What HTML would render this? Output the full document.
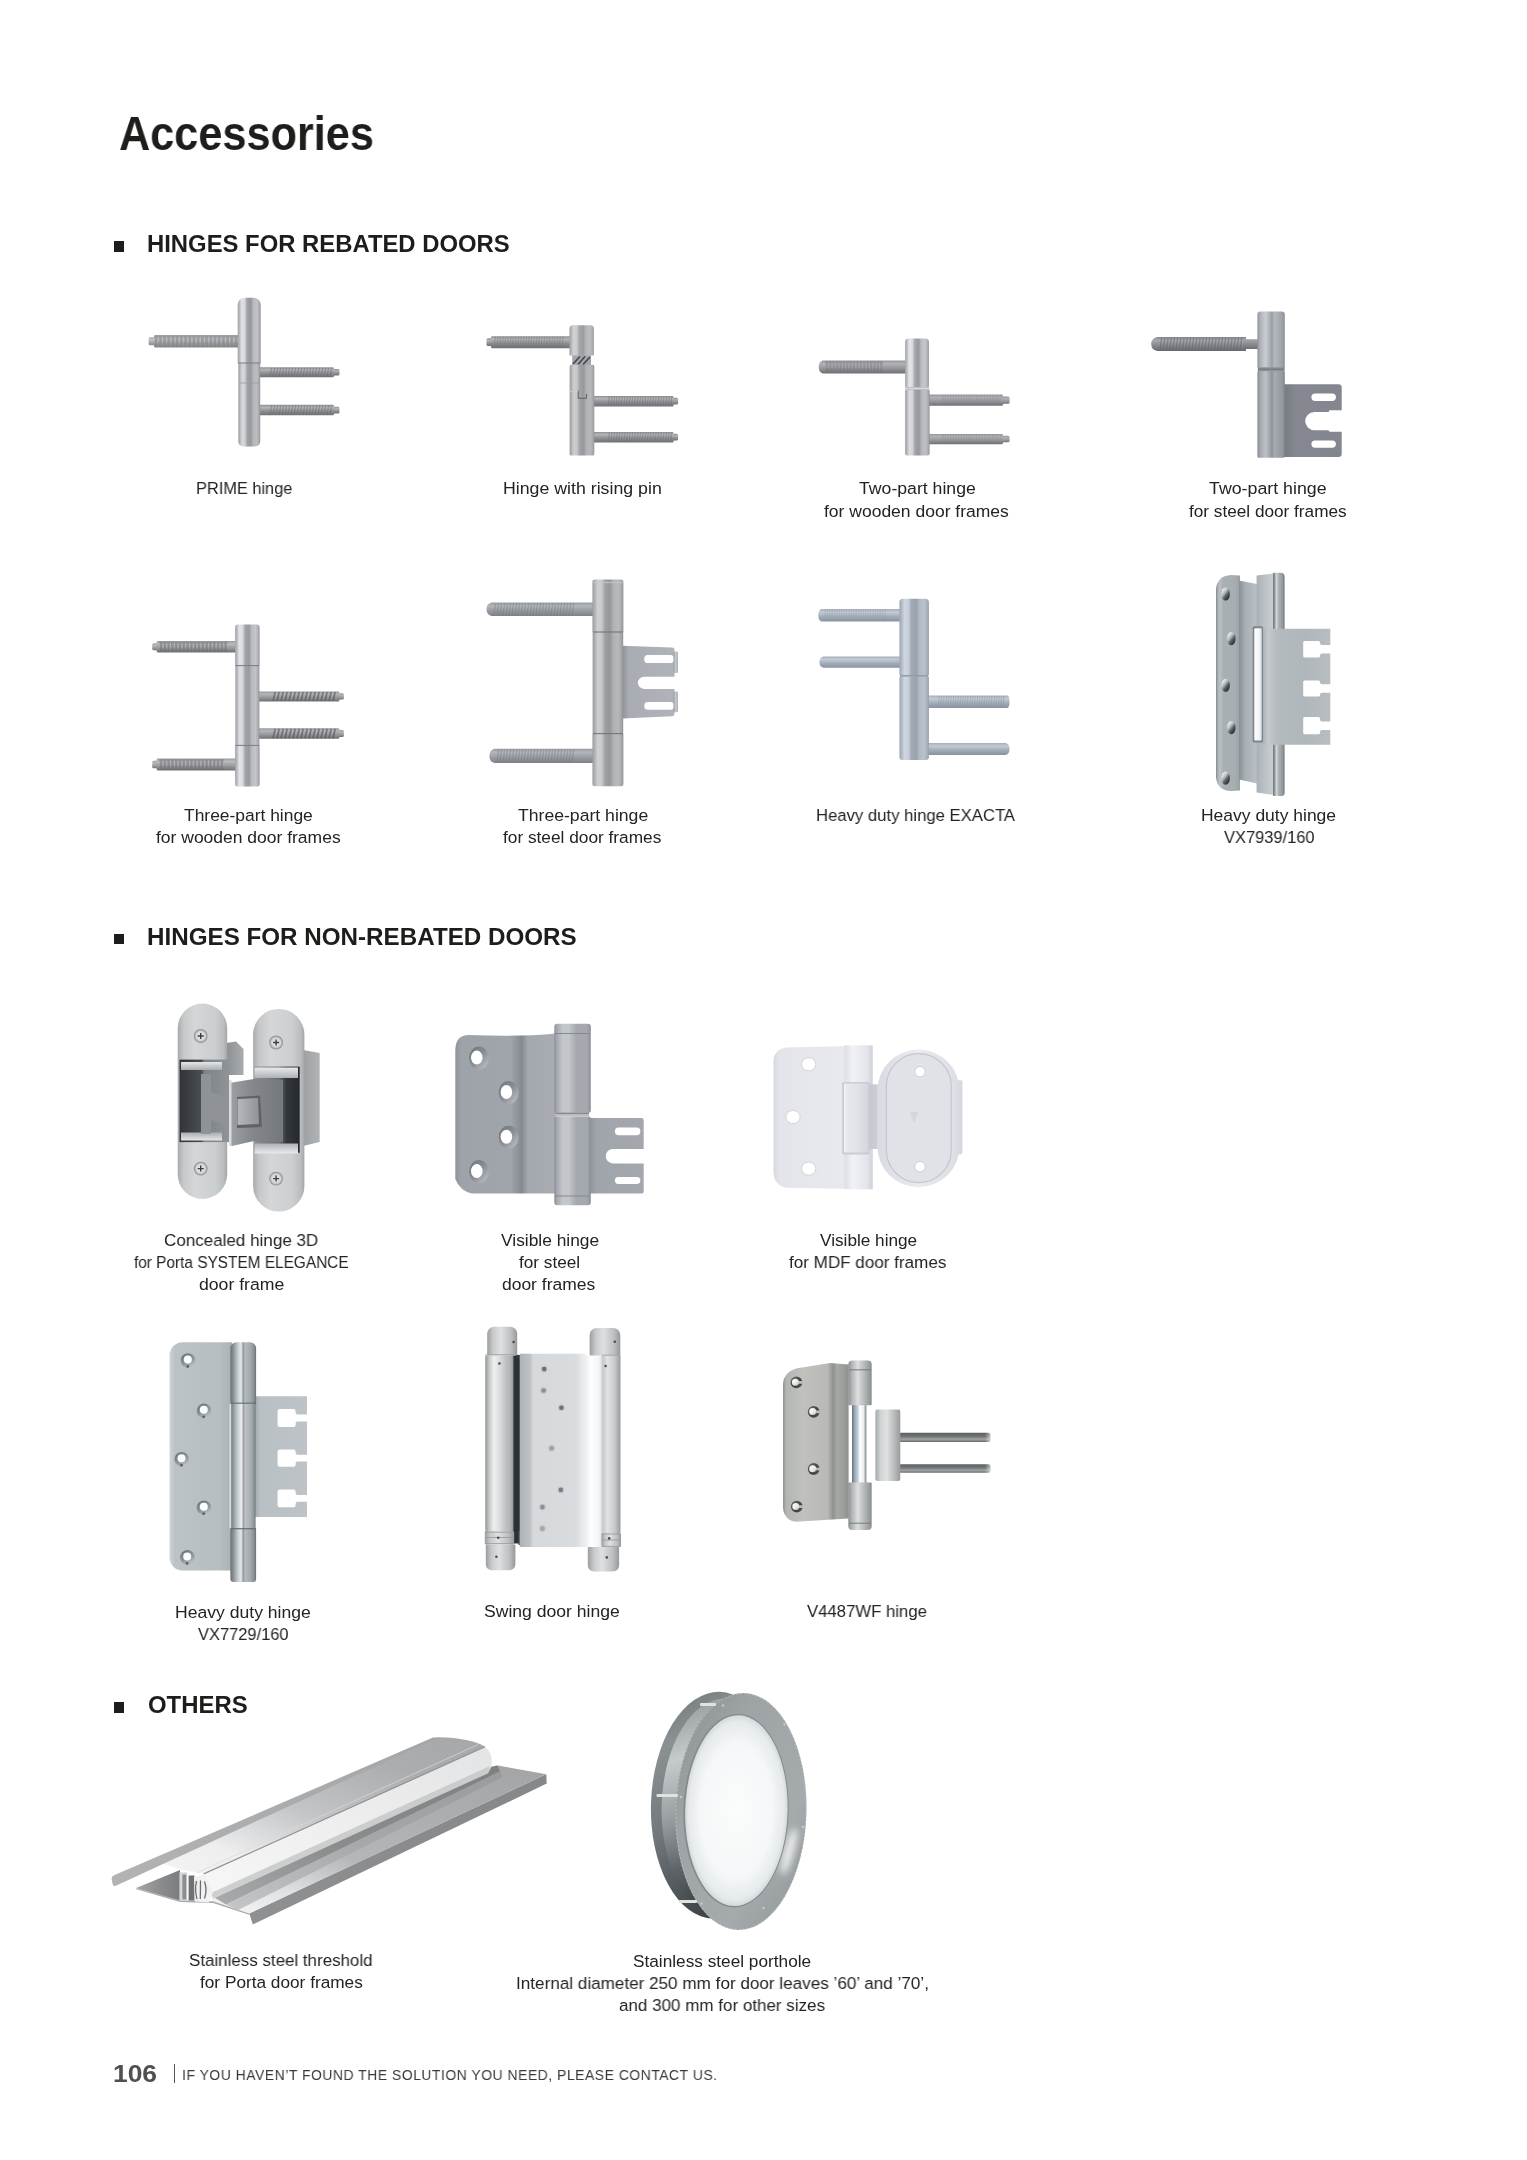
<!DOCTYPE html>
<html lang="en">
<head>
<meta charset="utf-8">
<title>Accessories</title>
<style>
html,body{margin:0;padding:0;background:#fff;}
body{width:1527px;height:2160px;position:relative;overflow:hidden;font-family:"Liberation Sans",sans-serif;}
#art{position:absolute;display:block;left:0;top:0;width:1527px;height:2160px;}
.t{position:absolute;will-change:transform;white-space:nowrap;line-height:1;transform-origin:0 0;margin:0;padding:0;font-weight:400;}
.b{position:absolute;width:10.6px;height:10.4px;background:#1d1d1b;}
.sep{position:absolute;left:173.7px;top:2064.0px;width:1.1px;height:19px;background:#555;}
</style>
</head>
<body>
<svg id="art" width="1527" height="2160" viewBox="0 0 1527 2160">
<defs>
<filter id="soft" x="-5%" y="-5%" width="110%" height="110%"><feGaussianBlur stdDeviation="0.55"/></filter>
<linearGradient id="g1" x1="0" y1="0" x2="0" y2="1"><stop offset="0" stop-color="#a3a5a9"/><stop offset="0.25" stop-color="#c2c4c7"/><stop offset="0.6" stop-color="#a3a5a9"/><stop offset="1" stop-color="#8a8c90"/></linearGradient>
<linearGradient id="g2" x1="0" y1="0" x2="0" y2="1"><stop offset="0" stop-color="#a3a5a9"/><stop offset="0.3" stop-color="#c2c4c7"/><stop offset="0.65" stop-color="#a3a5a9"/><stop offset="1" stop-color="#8a8c90"/></linearGradient>
<linearGradient id="g3" x1="0" y1="0" x2="0" y2="1"><stop offset="0" stop-color="#8d8f93"/><stop offset="0.25" stop-color="#b3b5b8"/><stop offset="0.6" stop-color="#8d8f93"/><stop offset="1" stop-color="#6e7074"/></linearGradient>
<linearGradient id="g4" x1="0" y1="0" x2="0" y2="1"><stop offset="0" stop-color="#8d8f93"/><stop offset="0.3" stop-color="#b3b5b8"/><stop offset="0.65" stop-color="#8d8f93"/><stop offset="1" stop-color="#6e7074"/></linearGradient>
<linearGradient id="g5" x1="0" y1="0" x2="0" y2="1"><stop offset="0" stop-color="#8d8f93"/><stop offset="0.25" stop-color="#b3b5b8"/><stop offset="0.6" stop-color="#8d8f93"/><stop offset="1" stop-color="#6e7074"/></linearGradient>
<linearGradient id="g6" x1="0" y1="0" x2="0" y2="1"><stop offset="0" stop-color="#8d8f93"/><stop offset="0.3" stop-color="#b3b5b8"/><stop offset="0.65" stop-color="#8d8f93"/><stop offset="1" stop-color="#6e7074"/></linearGradient>
<linearGradient id="g7" x1="0" y1="0" x2="1" y2="0"><stop offset="0" stop-color="#9da0a5"/><stop offset="0.07" stop-color="#b3b6ba"/><stop offset="0.17" stop-color="#e0e2e5"/><stop offset="0.3" stop-color="#d8dadd"/><stop offset="0.41" stop-color="#a0a3a9"/><stop offset="0.57" stop-color="#94979d"/><stop offset="0.68" stop-color="#b7babe"/><stop offset="0.84" stop-color="#c2c4c8"/><stop offset="0.94" stop-color="#a9acb1"/><stop offset="1" stop-color="#8e9197"/></linearGradient>
<linearGradient id="g8" x1="0" y1="0" x2="1" y2="0"><stop offset="0" stop-color="#9da0a4"/><stop offset="0.07" stop-color="#b0b2b6"/><stop offset="0.17" stop-color="#d6d8da"/><stop offset="0.3" stop-color="#cfd1d4"/><stop offset="0.41" stop-color="#a0a2a7"/><stop offset="0.57" stop-color="#95989d"/><stop offset="0.68" stop-color="#b3b6b9"/><stop offset="0.84" stop-color="#bdbec2"/><stop offset="0.94" stop-color="#a7aaae"/><stop offset="1" stop-color="#909398"/></linearGradient>
<linearGradient id="g9" x1="0" y1="0" x2="0" y2="1"><stop offset="0" stop-color="#8c8e92"/><stop offset="0.25" stop-color="#b3b5b8"/><stop offset="0.6" stop-color="#8c8e92"/><stop offset="1" stop-color="#6e7074"/></linearGradient>
<linearGradient id="g10" x1="0" y1="0" x2="0" y2="1"><stop offset="0" stop-color="#8c8e92"/><stop offset="0.3" stop-color="#b3b5b8"/><stop offset="0.65" stop-color="#8c8e92"/><stop offset="1" stop-color="#6e7074"/></linearGradient>
<linearGradient id="g11" x1="0" y1="0" x2="0" y2="1"><stop offset="0" stop-color="#8c8e92"/><stop offset="0.25" stop-color="#b3b5b8"/><stop offset="0.6" stop-color="#8c8e92"/><stop offset="1" stop-color="#6e7074"/></linearGradient>
<linearGradient id="g12" x1="0" y1="0" x2="0" y2="1"><stop offset="0" stop-color="#8c8e92"/><stop offset="0.3" stop-color="#b3b5b8"/><stop offset="0.65" stop-color="#8c8e92"/><stop offset="1" stop-color="#6e7074"/></linearGradient>
<linearGradient id="g13" x1="0" y1="0" x2="0" y2="1"><stop offset="0" stop-color="#8c8e92"/><stop offset="0.25" stop-color="#b3b5b8"/><stop offset="0.6" stop-color="#8c8e92"/><stop offset="1" stop-color="#6e7074"/></linearGradient>
<linearGradient id="g14" x1="0" y1="0" x2="0" y2="1"><stop offset="0" stop-color="#8c8e92"/><stop offset="0.3" stop-color="#b3b5b8"/><stop offset="0.65" stop-color="#8c8e92"/><stop offset="1" stop-color="#6e7074"/></linearGradient>
<linearGradient id="g15" x1="0" y1="0" x2="1" y2="0"><stop offset="0" stop-color="#a1a3a7"/><stop offset="0.07" stop-color="#b1b3b6"/><stop offset="0.17" stop-color="#d0d2d4"/><stop offset="0.3" stop-color="#cbccce"/><stop offset="0.41" stop-color="#a3a6aa"/><stop offset="0.57" stop-color="#9b9da1"/><stop offset="0.68" stop-color="#b4b6b8"/><stop offset="0.84" stop-color="#bbbdbf"/><stop offset="0.94" stop-color="#aaacaf"/><stop offset="1" stop-color="#97999d"/></linearGradient>
<linearGradient id="g16" x1="0" y1="0" x2="1" y2="0"><stop offset="0" stop-color="#9d9fa3"/><stop offset="0.07" stop-color="#adafb2"/><stop offset="0.17" stop-color="#ccced0"/><stop offset="0.3" stop-color="#c7c8ca"/><stop offset="0.41" stop-color="#9fa2a6"/><stop offset="0.57" stop-color="#97999d"/><stop offset="0.68" stop-color="#b0b2b4"/><stop offset="0.84" stop-color="#b7b9bb"/><stop offset="0.94" stop-color="#a6a8ab"/><stop offset="1" stop-color="#939599"/></linearGradient>
<linearGradient id="g17" x1="0" y1="0" x2="0" y2="1"><stop offset="0" stop-color="#94969a"/><stop offset="0.25" stop-color="#b2b4b7"/><stop offset="0.6" stop-color="#94969a"/><stop offset="1" stop-color="#6e7074"/></linearGradient>
<linearGradient id="g18" x1="0" y1="0" x2="0" y2="1"><stop offset="0" stop-color="#96989c"/><stop offset="0.25" stop-color="#b0b2b5"/><stop offset="0.6" stop-color="#96989c"/><stop offset="1" stop-color="#6e7074"/></linearGradient>
<linearGradient id="g19" x1="0" y1="0" x2="0" y2="1"><stop offset="0" stop-color="#96989c"/><stop offset="0.3" stop-color="#b0b2b5"/><stop offset="0.65" stop-color="#96989c"/><stop offset="1" stop-color="#6e7074"/></linearGradient>
<linearGradient id="g20" x1="0" y1="0" x2="0" y2="1"><stop offset="0" stop-color="#96989c"/><stop offset="0.25" stop-color="#b0b2b5"/><stop offset="0.6" stop-color="#96989c"/><stop offset="1" stop-color="#6e7074"/></linearGradient>
<linearGradient id="g21" x1="0" y1="0" x2="0" y2="1"><stop offset="0" stop-color="#96989c"/><stop offset="0.3" stop-color="#b0b2b5"/><stop offset="0.65" stop-color="#96989c"/><stop offset="1" stop-color="#6e7074"/></linearGradient>
<linearGradient id="g22" x1="0" y1="0" x2="1" y2="0"><stop offset="0" stop-color="#a0a3a8"/><stop offset="0.07" stop-color="#b6b9bd"/><stop offset="0.17" stop-color="#e3e5e8"/><stop offset="0.3" stop-color="#dbdde0"/><stop offset="0.41" stop-color="#a3a6ac"/><stop offset="0.57" stop-color="#979aa0"/><stop offset="0.68" stop-color="#babdc1"/><stop offset="0.84" stop-color="#c5c7cb"/><stop offset="0.94" stop-color="#acafb4"/><stop offset="1" stop-color="#91949a"/></linearGradient>
<linearGradient id="g23" x1="0" y1="0" x2="1" y2="0"><stop offset="0" stop-color="#9da0a4"/><stop offset="0.07" stop-color="#b1b4b7"/><stop offset="0.17" stop-color="#d9dbde"/><stop offset="0.3" stop-color="#d2d4d7"/><stop offset="0.41" stop-color="#a0a2a8"/><stop offset="0.57" stop-color="#95989d"/><stop offset="0.68" stop-color="#b4b7bb"/><stop offset="0.84" stop-color="#bec0c4"/><stop offset="0.94" stop-color="#a8abaf"/><stop offset="1" stop-color="#909298"/></linearGradient>
<linearGradient id="g24" x1="0" y1="0" x2="0" y2="1"><stop offset="0" stop-color="#86898d"/><stop offset="0.25" stop-color="#a6a9ad"/><stop offset="0.6" stop-color="#86898d"/><stop offset="1" stop-color="#66696d"/></linearGradient>
<linearGradient id="g25" x1="0" y1="0" x2="0" y2="1"><stop offset="0" stop-color="#a3a6aa"/><stop offset="0.4" stop-color="#8e9195"/><stop offset="1" stop-color="#6c6f73"/></linearGradient>
<linearGradient id="g26" x1="0" y1="0" x2="1" y2="0"><stop offset="0" stop-color="#787b83"/><stop offset="0.2" stop-color="#858891"/><stop offset="1" stop-color="#83868e"/></linearGradient>
<linearGradient id="g27" x1="0" y1="0" x2="1" y2="0"><stop offset="0" stop-color="#8f9299"/><stop offset="0.1" stop-color="#aeb2b8"/><stop offset="0.3" stop-color="#c9ccd1"/><stop offset="0.47" stop-color="#a9adb3"/><stop offset="0.53" stop-color="#999da4"/><stop offset="0.62" stop-color="#b4b8be"/><stop offset="0.9" stop-color="#9ea2a9"/><stop offset="1" stop-color="#8a8e95"/></linearGradient>
<linearGradient id="g28" x1="0" y1="0" x2="1" y2="0"><stop offset="0" stop-color="#868990"/><stop offset="0.1" stop-color="#a3a7ae"/><stop offset="0.3" stop-color="#bdc1c7"/><stop offset="0.47" stop-color="#9da1a8"/><stop offset="0.53" stop-color="#8e9299"/><stop offset="0.62" stop-color="#a6aab1"/><stop offset="0.9" stop-color="#959aa1"/><stop offset="1" stop-color="#80848b"/></linearGradient>
<linearGradient id="g29" x1="0" y1="0" x2="0" y2="1"><stop offset="0" stop-color="#9a9ca0"/><stop offset="0.25" stop-color="#b9bbbe"/><stop offset="0.6" stop-color="#9a9ca0"/><stop offset="1" stop-color="#6e7074"/></linearGradient>
<linearGradient id="g30" x1="0" y1="0" x2="0" y2="1"><stop offset="0" stop-color="#9a9ca0"/><stop offset="0.3" stop-color="#b9bbbe"/><stop offset="0.65" stop-color="#9a9ca0"/><stop offset="1" stop-color="#6e7074"/></linearGradient>
<linearGradient id="g31" x1="0" y1="0" x2="0" y2="1"><stop offset="0" stop-color="#9a9ca0"/><stop offset="0.25" stop-color="#b9bbbe"/><stop offset="0.6" stop-color="#9a9ca0"/><stop offset="1" stop-color="#6e7074"/></linearGradient>
<linearGradient id="g32" x1="0" y1="0" x2="0" y2="1"><stop offset="0" stop-color="#9a9ca0"/><stop offset="0.3" stop-color="#b9bbbe"/><stop offset="0.65" stop-color="#9a9ca0"/><stop offset="1" stop-color="#6e7074"/></linearGradient>
<linearGradient id="g33" x1="0" y1="0" x2="0" y2="1"><stop offset="0" stop-color="#96989c"/><stop offset="0.25" stop-color="#b4b6b9"/><stop offset="0.6" stop-color="#96989c"/><stop offset="1" stop-color="#6e7074"/></linearGradient>
<linearGradient id="g34" x1="0" y1="0" x2="0" y2="1"><stop offset="0" stop-color="#96989c"/><stop offset="0.3" stop-color="#b4b6b9"/><stop offset="0.65" stop-color="#96989c"/><stop offset="1" stop-color="#6e7074"/></linearGradient>
<linearGradient id="g35" x1="0" y1="0" x2="0" y2="1"><stop offset="0" stop-color="#96989c"/><stop offset="0.25" stop-color="#b4b6b9"/><stop offset="0.6" stop-color="#96989c"/><stop offset="1" stop-color="#6e7074"/></linearGradient>
<linearGradient id="g36" x1="0" y1="0" x2="0" y2="1"><stop offset="0" stop-color="#96989c"/><stop offset="0.3" stop-color="#b4b6b9"/><stop offset="0.65" stop-color="#96989c"/><stop offset="1" stop-color="#6e7074"/></linearGradient>
<linearGradient id="g37" x1="0" y1="0" x2="1" y2="0"><stop offset="0" stop-color="#9fa2a7"/><stop offset="0.07" stop-color="#b5b8bc"/><stop offset="0.17" stop-color="#e2e4e7"/><stop offset="0.3" stop-color="#dadcdf"/><stop offset="0.41" stop-color="#a2a5ab"/><stop offset="0.57" stop-color="#96999f"/><stop offset="0.68" stop-color="#b9bcc0"/><stop offset="0.84" stop-color="#c4c6ca"/><stop offset="0.94" stop-color="#abaeb3"/><stop offset="1" stop-color="#909399"/></linearGradient>
<linearGradient id="g38" x1="0" y1="0" x2="1" y2="0"><stop offset="0" stop-color="#9fa2a6"/><stop offset="0.07" stop-color="#b3b6b9"/><stop offset="0.17" stop-color="#dbdde0"/><stop offset="0.3" stop-color="#d4d6d9"/><stop offset="0.41" stop-color="#a2a4aa"/><stop offset="0.57" stop-color="#979a9f"/><stop offset="0.68" stop-color="#b6b9bd"/><stop offset="0.84" stop-color="#c0c2c6"/><stop offset="0.94" stop-color="#aaadb1"/><stop offset="1" stop-color="#92949a"/></linearGradient>
<linearGradient id="g39" x1="0" y1="0" x2="1" y2="0"><stop offset="0" stop-color="#9fa2a7"/><stop offset="0.07" stop-color="#b5b8bc"/><stop offset="0.17" stop-color="#e2e4e7"/><stop offset="0.3" stop-color="#dadcdf"/><stop offset="0.41" stop-color="#a2a5ab"/><stop offset="0.57" stop-color="#96999f"/><stop offset="0.68" stop-color="#b9bcc0"/><stop offset="0.84" stop-color="#c4c6ca"/><stop offset="0.94" stop-color="#abaeb3"/><stop offset="1" stop-color="#909399"/></linearGradient>
<linearGradient id="g40" x1="0" y1="0" x2="0" y2="1"><stop offset="0" stop-color="#999ca1"/><stop offset="0.25" stop-color="#b3b6bb"/><stop offset="0.6" stop-color="#999ca1"/><stop offset="1" stop-color="#7f8287"/></linearGradient>
<linearGradient id="g41" x1="0" y1="0" x2="0" y2="1"><stop offset="0" stop-color="#999ca1"/><stop offset="0.25" stop-color="#b3b6bb"/><stop offset="0.6" stop-color="#999ca1"/><stop offset="1" stop-color="#7f8287"/></linearGradient>
<linearGradient id="g42" x1="0" y1="0" x2="1" y2="0"><stop offset="0" stop-color="#8f939a"/><stop offset="0.12" stop-color="#a9adb3"/><stop offset="1" stop-color="#b0b4ba"/></linearGradient>
<linearGradient id="g43" x1="0" y1="0" x2="1" y2="0"><stop offset="0" stop-color="#9a9ea4"/><stop offset="0.5" stop-color="#c9ccd0"/><stop offset="1" stop-color="#a3a7ad"/></linearGradient>
<linearGradient id="g44" x1="0" y1="0" x2="1" y2="0"><stop offset="0" stop-color="#9a9ea4"/><stop offset="0.5" stop-color="#c9ccd0"/><stop offset="1" stop-color="#a3a7ad"/></linearGradient>
<linearGradient id="g45" x1="0" y1="0" x2="1" y2="0"><stop offset="0" stop-color="#9c9ea2"/><stop offset="0.07" stop-color="#adafb2"/><stop offset="0.17" stop-color="#ced0d2"/><stop offset="0.3" stop-color="#c8cacc"/><stop offset="0.41" stop-color="#9ea1a5"/><stop offset="0.57" stop-color="#96989c"/><stop offset="0.68" stop-color="#b0b2b5"/><stop offset="0.84" stop-color="#b8babc"/><stop offset="0.94" stop-color="#a5a8ab"/><stop offset="1" stop-color="#919398"/></linearGradient>
<linearGradient id="g46" x1="0" y1="0" x2="1" y2="0"><stop offset="0" stop-color="#9a9ca0"/><stop offset="0.07" stop-color="#abadb0"/><stop offset="0.17" stop-color="#ccced0"/><stop offset="0.3" stop-color="#c6c8ca"/><stop offset="0.41" stop-color="#9c9fa3"/><stop offset="0.57" stop-color="#94969a"/><stop offset="0.68" stop-color="#aeb0b3"/><stop offset="0.84" stop-color="#b6b8ba"/><stop offset="0.94" stop-color="#a3a6a9"/><stop offset="1" stop-color="#8f9196"/></linearGradient>
<linearGradient id="g47" x1="0" y1="0" x2="1" y2="0"><stop offset="0" stop-color="#9c9ea2"/><stop offset="0.07" stop-color="#adafb2"/><stop offset="0.17" stop-color="#ced0d2"/><stop offset="0.3" stop-color="#c8cacc"/><stop offset="0.41" stop-color="#9ea1a5"/><stop offset="0.57" stop-color="#96989c"/><stop offset="0.68" stop-color="#b0b2b5"/><stop offset="0.84" stop-color="#b8babc"/><stop offset="0.94" stop-color="#a5a8ab"/><stop offset="1" stop-color="#919398"/></linearGradient>
<linearGradient id="g48" x1="0" y1="0" x2="0" y2="1"><stop offset="0" stop-color="#a3adb9"/><stop offset="0.25" stop-color="#c3cbd4"/><stop offset="0.6" stop-color="#a3adb9"/><stop offset="1" stop-color="#8893a0"/></linearGradient>
<linearGradient id="g49" x1="0" y1="0" x2="0" y2="1"><stop offset="0" stop-color="#a3adb9"/><stop offset="0.25" stop-color="#c3cbd4"/><stop offset="0.6" stop-color="#a3adb9"/><stop offset="1" stop-color="#8893a0"/></linearGradient>
<linearGradient id="g50" x1="0" y1="0" x2="0" y2="1"><stop offset="0" stop-color="#a3adb9"/><stop offset="0.25" stop-color="#c3cbd4"/><stop offset="0.6" stop-color="#a3adb9"/><stop offset="1" stop-color="#8893a0"/></linearGradient>
<linearGradient id="g51" x1="0" y1="0" x2="0" y2="1"><stop offset="0" stop-color="#a3adb9"/><stop offset="0.25" stop-color="#c3cbd4"/><stop offset="0.6" stop-color="#a3adb9"/><stop offset="1" stop-color="#8893a0"/></linearGradient>
<linearGradient id="g52" x1="0" y1="0" x2="1" y2="0"><stop offset="0" stop-color="#9fa7b3"/><stop offset="0.07" stop-color="#afb7c2"/><stop offset="0.17" stop-color="#ced6e0"/><stop offset="0.3" stop-color="#c9d0da"/><stop offset="0.41" stop-color="#a1aab6"/><stop offset="0.57" stop-color="#99a1ad"/><stop offset="0.68" stop-color="#b2bac4"/><stop offset="0.84" stop-color="#b9c1cb"/><stop offset="0.94" stop-color="#a8b0bb"/><stop offset="1" stop-color="#959da9"/></linearGradient>
<linearGradient id="g53" x1="0" y1="0" x2="1" y2="0"><stop offset="0" stop-color="#9fa7b3"/><stop offset="0.07" stop-color="#afb7c2"/><stop offset="0.17" stop-color="#ced6e0"/><stop offset="0.3" stop-color="#c9d0da"/><stop offset="0.41" stop-color="#a1aab6"/><stop offset="0.57" stop-color="#99a1ad"/><stop offset="0.68" stop-color="#b2bac4"/><stop offset="0.84" stop-color="#b9c1cb"/><stop offset="0.94" stop-color="#a8b0bb"/><stop offset="1" stop-color="#959da9"/></linearGradient>
<linearGradient id="g54" x1="0" y1="0" x2="1" y2="0"><stop offset="0" stop-color="#7f878c"/><stop offset="0.06" stop-color="#a2a9ad"/><stop offset="0.16" stop-color="#bcc2c5"/><stop offset="0.3" stop-color="#a9b0b4"/><stop offset="0.8" stop-color="#a7aeb2"/><stop offset="1" stop-color="#99a1a5"/></linearGradient>
<linearGradient id="g55" x1="0" y1="0" x2="1" y2="0"><stop offset="0" stop-color="#889095"/><stop offset="0.35" stop-color="#a9b0b5"/><stop offset="1" stop-color="#b9bfc4"/></linearGradient>
<linearGradient id="g56" x1="0" y1="0" x2="1" y2="0"><stop offset="0" stop-color="#aab1b6"/><stop offset="0.5" stop-color="#bcc2c6"/><stop offset="1" stop-color="#c9ced2"/></linearGradient>
<linearGradient id="g57" x1="0" y1="0" x2="1" y2="0"><stop offset="0" stop-color="#6b7378"/><stop offset="0.12" stop-color="#8b9398"/><stop offset="0.3" stop-color="#d2d6d8"/><stop offset="0.5" stop-color="#a9b0b4"/><stop offset="0.8" stop-color="#949ca0"/><stop offset="1" stop-color="#70787d"/></linearGradient>
<linearGradient id="g58" x1="0.15" y1="0.1" x2="0.85" y2="0.95"><stop offset="0" stop-color="#f4f6f6"/><stop offset="0.35" stop-color="#b5bbbe"/><stop offset="0.6" stop-color="#596063"/><stop offset="1" stop-color="#1d2225"/></linearGradient>
<linearGradient id="g59" x1="0.15" y1="0.1" x2="0.85" y2="0.95"><stop offset="0" stop-color="#f4f6f6"/><stop offset="0.35" stop-color="#b5bbbe"/><stop offset="0.6" stop-color="#596063"/><stop offset="1" stop-color="#1d2225"/></linearGradient>
<linearGradient id="g60" x1="0.15" y1="0.1" x2="0.85" y2="0.95"><stop offset="0" stop-color="#f4f6f6"/><stop offset="0.35" stop-color="#b5bbbe"/><stop offset="0.6" stop-color="#596063"/><stop offset="1" stop-color="#1d2225"/></linearGradient>
<linearGradient id="g61" x1="0.15" y1="0.1" x2="0.85" y2="0.95"><stop offset="0" stop-color="#f4f6f6"/><stop offset="0.35" stop-color="#b5bbbe"/><stop offset="0.6" stop-color="#596063"/><stop offset="1" stop-color="#1d2225"/></linearGradient>
<linearGradient id="g62" x1="0.15" y1="0.1" x2="0.85" y2="0.95"><stop offset="0" stop-color="#f4f6f6"/><stop offset="0.35" stop-color="#b5bbbe"/><stop offset="0.6" stop-color="#596063"/><stop offset="1" stop-color="#1d2225"/></linearGradient>
<linearGradient id="g63" x1="0" y1="0" x2="1" y2="0"><stop offset="0" stop-color="#a7aeb2"/><stop offset="0.08" stop-color="#c4c9cc"/><stop offset="0.22" stop-color="#b4babe"/><stop offset="0.6" stop-color="#b0b7ba"/><stop offset="1" stop-color="#b7bdc0"/></linearGradient>
<linearGradient id="g64" x1="0" y1="0" x2="1" y2="0"><stop offset="0" stop-color="#ffffff"/><stop offset="0.7" stop-color="#f2f4f5"/><stop offset="1" stop-color="#cfd4d7"/></linearGradient>
<linearGradient id="g65" x1="0" y1="0" x2="1" y2="0"><stop offset="0" stop-color="#8d9093"/><stop offset="1" stop-color="#a9acae"/></linearGradient>
<linearGradient id="g66" x1="0" y1="0" x2="1" y2="0"><stop offset="0" stop-color="#9da0a2"/><stop offset="1" stop-color="#b1b4b6"/></linearGradient>
<linearGradient id="g67" x1="0" y1="0" x2="1" y2="0"><stop offset="0" stop-color="#a9acae"/><stop offset="0.12" stop-color="#c6c8ca"/><stop offset="0.35" stop-color="#d4d6d8"/><stop offset="0.75" stop-color="#cccfd1"/><stop offset="0.92" stop-color="#bcbfc1"/><stop offset="1" stop-color="#a4a7a9"/></linearGradient>
<linearGradient id="g68" x1="0" y1="0" x2="1" y2="0"><stop offset="0" stop-color="#2f3337"/><stop offset="0.45" stop-color="#4a4e53"/><stop offset="0.5" stop-color="#7e8387"/><stop offset="1" stop-color="#8f9498"/></linearGradient>
<linearGradient id="g69" x1="0" y1="0" x2="0" y2="1"><stop offset="0" stop-color="#e5e7e8"/><stop offset="1" stop-color="#a9adb0"/></linearGradient>
<linearGradient id="g70" x1="0" y1="0" x2="0" y2="1"><stop offset="0" stop-color="#a9adb0"/><stop offset="1" stop-color="#e5e7e8"/></linearGradient>
<linearGradient id="g71" x1="0" y1="0" x2="1" y2="0"><stop offset="0" stop-color="#8a8e92"/><stop offset="0.55" stop-color="#6a6e73"/><stop offset="0.7" stop-color="#33373b"/><stop offset="1" stop-color="#26292d"/></linearGradient>
<linearGradient id="g72" x1="0" y1="0" x2="0" y2="1"><stop offset="0" stop-color="#e8eaeb"/><stop offset="1" stop-color="#aeb2b5"/></linearGradient>
<linearGradient id="g73" x1="0" y1="0" x2="0" y2="1"><stop offset="0" stop-color="#aeb2b5"/><stop offset="1" stop-color="#e8eaeb"/></linearGradient>
<linearGradient id="g74" x1="0" y1="0" x2="1" y2="0"><stop offset="0" stop-color="#9ea2a6"/><stop offset="0.4" stop-color="#85898d"/><stop offset="1" stop-color="#74787c"/></linearGradient>
<linearGradient id="g75" x1="0" y1="0" x2="1" y2="0"><stop offset="0" stop-color="#b5b9bc"/><stop offset="1" stop-color="#8f9397"/></linearGradient>
<radialGradient id="r76" cx="0.5" cy="0.5" r="0.5"><stop offset="0" stop-color="#eceeef"/><stop offset="0.7" stop-color="#d5d8da"/><stop offset="1" stop-color="#9da1a4"/></radialGradient>
<radialGradient id="r77" cx="0.5" cy="0.5" r="0.5"><stop offset="0" stop-color="#eceeef"/><stop offset="0.7" stop-color="#d5d8da"/><stop offset="1" stop-color="#9da1a4"/></radialGradient>
<radialGradient id="r78" cx="0.5" cy="0.5" r="0.5"><stop offset="0" stop-color="#eceeef"/><stop offset="0.7" stop-color="#d5d8da"/><stop offset="1" stop-color="#9da1a4"/></radialGradient>
<radialGradient id="r79" cx="0.5" cy="0.5" r="0.5"><stop offset="0" stop-color="#eceeef"/><stop offset="0.7" stop-color="#d5d8da"/><stop offset="1" stop-color="#9da1a4"/></radialGradient>
<linearGradient id="g80" x1="0" y1="0" x2="1" y2="0"><stop offset="0" stop-color="#8f939b"/><stop offset="0.06" stop-color="#9ea2a9"/><stop offset="0.55" stop-color="#a0a4ab"/><stop offset="0.66" stop-color="#858990"/><stop offset="0.72" stop-color="#a3a7ae"/><stop offset="1" stop-color="#a9adb3"/></linearGradient>
<linearGradient id="g81" x1="0" y1="0" x2="1" y2="1"><stop offset="0" stop-color="#6f737a"/><stop offset="0.5" stop-color="#8a8e95"/><stop offset="1" stop-color="#c5c8cc"/></linearGradient>
<linearGradient id="g82" x1="0" y1="0" x2="1" y2="1"><stop offset="0" stop-color="#6f737a"/><stop offset="0.5" stop-color="#8a8e95"/><stop offset="1" stop-color="#c5c8cc"/></linearGradient>
<linearGradient id="g83" x1="0" y1="0" x2="1" y2="1"><stop offset="0" stop-color="#6f737a"/><stop offset="0.5" stop-color="#8a8e95"/><stop offset="1" stop-color="#c5c8cc"/></linearGradient>
<linearGradient id="g84" x1="0" y1="0" x2="1" y2="1"><stop offset="0" stop-color="#6f737a"/><stop offset="0.5" stop-color="#8a8e95"/><stop offset="1" stop-color="#c5c8cc"/></linearGradient>
<linearGradient id="g85" x1="0" y1="0" x2="1" y2="0"><stop offset="0" stop-color="#8a8e95"/><stop offset="0.15" stop-color="#a0a4ab"/><stop offset="1" stop-color="#a4a8ae"/></linearGradient>
<linearGradient id="g86" x1="0" y1="0" x2="1" y2="0"><stop offset="0" stop-color="#8a8e95"/><stop offset="0.07" stop-color="#a5a9af"/><stop offset="0.22999999999999998" stop-color="#c3c6cb"/><stop offset="0.39999999999999997" stop-color="#c3c6cb"/><stop offset="0.6" stop-color="#a5a9af"/><stop offset="0.9" stop-color="#a5a9af"/><stop offset="1" stop-color="#8a8e95"/></linearGradient>
<linearGradient id="g87" x1="0" y1="0" x2="1" y2="0"><stop offset="0" stop-color="#8a8e95"/><stop offset="0.07" stop-color="#a5a9af"/><stop offset="0.22999999999999998" stop-color="#c3c6cb"/><stop offset="0.39999999999999997" stop-color="#c3c6cb"/><stop offset="0.6" stop-color="#a5a9af"/><stop offset="0.9" stop-color="#a5a9af"/><stop offset="1" stop-color="#8a8e95"/></linearGradient>
<linearGradient id="g88" x1="0" y1="0" x2="1" y2="0"><stop offset="0" stop-color="#d6d8df"/><stop offset="0.06" stop-color="#e4e5ea"/><stop offset="0.7" stop-color="#e8e9ed"/><stop offset="1" stop-color="#e1e3e8"/></linearGradient>
<linearGradient id="g89" x1="0" y1="0" x2="1" y2="0"><stop offset="0" stop-color="#dcdee5"/><stop offset="0.3" stop-color="#f1f2f5"/><stop offset="0.8" stop-color="#e3e5ea"/><stop offset="1" stop-color="#cfd2da"/></linearGradient>
<linearGradient id="g90" x1="0" y1="0" x2="1" y2="0"><stop offset="0" stop-color="#c3c6cf"/><stop offset="0.45" stop-color="#cbced6"/><stop offset="0.5" stop-color="#dfe1e7"/><stop offset="1" stop-color="#e4e6eb"/></linearGradient>
<linearGradient id="g91" x1="0" y1="0" x2="1" y2="0"><stop offset="0" stop-color="#f4f5f7"/><stop offset="0.12" stop-color="#e6e8ec"/><stop offset="0.55" stop-color="#e0e2e8"/><stop offset="1" stop-color="#d3d6de"/></linearGradient>
<linearGradient id="g92" x1="0" y1="0" x2="1" y2="0"><stop offset="0" stop-color="#d9dbe2"/><stop offset="0.5" stop-color="#eaebef"/><stop offset="1" stop-color="#dbdde4"/></linearGradient>
<linearGradient id="g93" x1="0" y1="0" x2="1" y2="0"><stop offset="0" stop-color="#e2e4ea"/><stop offset="1" stop-color="#d3d6de"/></linearGradient>
<linearGradient id="g94" x1="0" y1="0" x2="1" y2="0"><stop offset="0" stop-color="#cdd2d5"/><stop offset="0.08" stop-color="#bcc3c6"/><stop offset="0.8" stop-color="#b7bec2"/><stop offset="1" stop-color="#aab1b5"/></linearGradient>
<linearGradient id="g95" x1="0.2" y1="0" x2="0.8" y2="1"><stop offset="0" stop-color="#6b7378"/><stop offset="0.55" stop-color="#8f979b"/><stop offset="1" stop-color="#c4c9cc"/></linearGradient>
<linearGradient id="g96" x1="0.2" y1="0" x2="0.8" y2="1"><stop offset="0" stop-color="#6b7378"/><stop offset="0.55" stop-color="#8f979b"/><stop offset="1" stop-color="#c4c9cc"/></linearGradient>
<linearGradient id="g97" x1="0.2" y1="0" x2="0.8" y2="1"><stop offset="0" stop-color="#6b7378"/><stop offset="0.55" stop-color="#8f979b"/><stop offset="1" stop-color="#c4c9cc"/></linearGradient>
<linearGradient id="g98" x1="0.2" y1="0" x2="0.8" y2="1"><stop offset="0" stop-color="#6b7378"/><stop offset="0.55" stop-color="#8f979b"/><stop offset="1" stop-color="#c4c9cc"/></linearGradient>
<linearGradient id="g99" x1="0.2" y1="0" x2="0.8" y2="1"><stop offset="0" stop-color="#6b7378"/><stop offset="0.55" stop-color="#8f979b"/><stop offset="1" stop-color="#c4c9cc"/></linearGradient>
<linearGradient id="g100" x1="0" y1="0" x2="1" y2="0"><stop offset="0" stop-color="#a3aaae"/><stop offset="0.1" stop-color="#b9c0c3"/><stop offset="1" stop-color="#bdc3c6"/></linearGradient>
<linearGradient id="g101" x1="0" y1="0" x2="1" y2="0"><stop offset="0" stop-color="#666e73"/><stop offset="0.1" stop-color="#848c91"/><stop offset="0.3" stop-color="#c9ced1"/><stop offset="0.42" stop-color="#e6e9ea"/><stop offset="0.5" stop-color="#8d959a"/><stop offset="0.56" stop-color="#b4babe"/><stop offset="0.8" stop-color="#a0a7ab"/><stop offset="0.93" stop-color="#848c90"/><stop offset="1" stop-color="#687075"/></linearGradient>
<linearGradient id="g102" x1="0" y1="0" x2="1" y2="0"><stop offset="0" stop-color="#737b80"/><stop offset="0.1" stop-color="#99a1a5"/><stop offset="0.3" stop-color="#d2d6d9"/><stop offset="0.42" stop-color="#eceeef"/><stop offset="0.5" stop-color="#98a0a4"/><stop offset="0.56" stop-color="#bcc2c5"/><stop offset="0.8" stop-color="#a8afb3"/><stop offset="0.93" stop-color="#8d9599"/><stop offset="1" stop-color="#727a7f"/></linearGradient>
<linearGradient id="g103" x1="0" y1="0" x2="1" y2="0"><stop offset="0" stop-color="#666e73"/><stop offset="0.1" stop-color="#848c91"/><stop offset="0.3" stop-color="#c9ced1"/><stop offset="0.42" stop-color="#e6e9ea"/><stop offset="0.5" stop-color="#8d959a"/><stop offset="0.56" stop-color="#b4babe"/><stop offset="0.8" stop-color="#a0a7ab"/><stop offset="0.93" stop-color="#848c90"/><stop offset="1" stop-color="#687075"/></linearGradient>
<linearGradient id="g104" x1="0" y1="0" x2="1" y2="0"><stop offset="0" stop-color="#aeb2b6"/><stop offset="0.16" stop-color="#bfc3c6"/><stop offset="0.2" stop-color="#d6d9dc"/><stop offset="0.85" stop-color="#d9dcdf"/><stop offset="1" stop-color="#f0f1f2"/></linearGradient>
<linearGradient id="g105" x1="0" y1="0" x2="1" y2="0"><stop offset="0" stop-color="#9b9ea0"/><stop offset="0.2" stop-color="#c8cacb"/><stop offset="0.45" stop-color="#dfe0e1"/><stop offset="0.8" stop-color="#bcbec0"/><stop offset="1" stop-color="#96999b"/></linearGradient>
<linearGradient id="g106" x1="0" y1="0" x2="1" y2="0"><stop offset="0" stop-color="#8e9193"/><stop offset="0.1" stop-color="#b9bcbe"/><stop offset="0.3" stop-color="#eeefef"/><stop offset="0.5" stop-color="#dcdedf"/><stop offset="0.75" stop-color="#bdc0c2"/><stop offset="0.9" stop-color="#b0b3b5"/><stop offset="1" stop-color="#8d9092"/></linearGradient>
<linearGradient id="g107" x1="0" y1="0" x2="1" y2="0"><stop offset="0" stop-color="#9b9ea0"/><stop offset="0.2" stop-color="#c8cacb"/><stop offset="0.45" stop-color="#dfe0e1"/><stop offset="0.8" stop-color="#bcbec0"/><stop offset="1" stop-color="#96999b"/></linearGradient>
<linearGradient id="g108" x1="0" y1="0" x2="1" y2="0"><stop offset="0" stop-color="#9b9ea0"/><stop offset="0.2" stop-color="#c8cacb"/><stop offset="0.45" stop-color="#dfe0e1"/><stop offset="0.8" stop-color="#bcbec0"/><stop offset="1" stop-color="#96999b"/></linearGradient>
<linearGradient id="g109" x1="0" y1="0" x2="1" y2="0"><stop offset="0" stop-color="#e9ebec"/><stop offset="0.35" stop-color="#ffffff"/><stop offset="0.8" stop-color="#f3f4f5"/><stop offset="1" stop-color="#d8dadc"/></linearGradient>
<linearGradient id="g110" x1="0" y1="0" x2="1" y2="0"><stop offset="0" stop-color="#9b9ea0"/><stop offset="0.2" stop-color="#c8cacb"/><stop offset="0.45" stop-color="#dfe0e1"/><stop offset="0.8" stop-color="#bcbec0"/><stop offset="1" stop-color="#96999b"/></linearGradient>
<linearGradient id="g111" x1="0" y1="0" x2="1" y2="0"><stop offset="0" stop-color="#c3c6c8"/><stop offset="0.3" stop-color="#e0e2e3"/><stop offset="0.7" stop-color="#c6c9cb"/><stop offset="1" stop-color="#979a9c"/></linearGradient>
<linearGradient id="g112" x1="0" y1="0" x2="1" y2="0"><stop offset="0" stop-color="#9b9ea0"/><stop offset="0.2" stop-color="#c8cacb"/><stop offset="0.45" stop-color="#dfe0e1"/><stop offset="0.8" stop-color="#bcbec0"/><stop offset="1" stop-color="#96999b"/></linearGradient>
<linearGradient id="g113" x1="0" y1="0" x2="1" y2="0"><stop offset="0" stop-color="#9b9ea0"/><stop offset="0.2" stop-color="#c8cacb"/><stop offset="0.45" stop-color="#dfe0e1"/><stop offset="0.8" stop-color="#bcbec0"/><stop offset="1" stop-color="#96999b"/></linearGradient>
<linearGradient id="g114" x1="0" y1="0" x2="1" y2="0"><stop offset="0" stop-color="#8f918d"/><stop offset="0.05" stop-color="#b4b6b1"/><stop offset="0.3" stop-color="#c0c1bc"/><stop offset="0.68" stop-color="#b9bab5"/><stop offset="0.765" stop-color="#8f918c"/><stop offset="0.82" stop-color="#a6a8a3"/><stop offset="0.93" stop-color="#9b9d98"/><stop offset="1" stop-color="#8e908b"/></linearGradient>
<linearGradient id="g115" x1="0" y1="0" x2="1" y2="1"><stop offset="0" stop-color="#6a6c6a"/><stop offset="0.6" stop-color="#3f4140"/><stop offset="1" stop-color="#5a5c5a"/></linearGradient>
<linearGradient id="g116" x1="0" y1="0" x2="1" y2="1"><stop offset="0" stop-color="#ffffff"/><stop offset="0.6" stop-color="#e9eae8"/><stop offset="1" stop-color="#b5b7b3"/></linearGradient>
<linearGradient id="g117" x1="0" y1="0" x2="1" y2="1"><stop offset="0" stop-color="#6a6c6a"/><stop offset="0.6" stop-color="#3f4140"/><stop offset="1" stop-color="#5a5c5a"/></linearGradient>
<linearGradient id="g118" x1="0" y1="0" x2="1" y2="1"><stop offset="0" stop-color="#ffffff"/><stop offset="0.6" stop-color="#e9eae8"/><stop offset="1" stop-color="#b5b7b3"/></linearGradient>
<linearGradient id="g119" x1="0" y1="0" x2="1" y2="1"><stop offset="0" stop-color="#6a6c6a"/><stop offset="0.6" stop-color="#3f4140"/><stop offset="1" stop-color="#5a5c5a"/></linearGradient>
<linearGradient id="g120" x1="0" y1="0" x2="1" y2="1"><stop offset="0" stop-color="#ffffff"/><stop offset="0.6" stop-color="#e9eae8"/><stop offset="1" stop-color="#b5b7b3"/></linearGradient>
<linearGradient id="g121" x1="0" y1="0" x2="1" y2="1"><stop offset="0" stop-color="#6a6c6a"/><stop offset="0.6" stop-color="#3f4140"/><stop offset="1" stop-color="#5a5c5a"/></linearGradient>
<linearGradient id="g122" x1="0" y1="0" x2="1" y2="1"><stop offset="0" stop-color="#ffffff"/><stop offset="0.6" stop-color="#e9eae8"/><stop offset="1" stop-color="#b5b7b3"/></linearGradient>
<linearGradient id="g123" x1="0" y1="0" x2="1" y2="0"><stop offset="0" stop-color="#5d6366"/><stop offset="0.15" stop-color="#8fa3b5"/><stop offset="0.4" stop-color="#c0d0de"/><stop offset="0.55" stop-color="#ffffff"/><stop offset="0.8" stop-color="#e8eef3"/><stop offset="1" stop-color="#7b8286"/></linearGradient>
<linearGradient id="g124" x1="0" y1="0" x2="1" y2="0"><stop offset="0" stop-color="#8d9092"/><stop offset="0.15" stop-color="#b1b4b5"/><stop offset="0.4" stop-color="#dcdedf"/><stop offset="0.7" stop-color="#b4b7b8"/><stop offset="1" stop-color="#8b8e90"/></linearGradient>
<linearGradient id="g125" x1="0" y1="0" x2="1" y2="0"><stop offset="0" stop-color="#8d9092"/><stop offset="0.15" stop-color="#b1b4b5"/><stop offset="0.4" stop-color="#dcdedf"/><stop offset="0.7" stop-color="#b4b7b8"/><stop offset="1" stop-color="#8b8e90"/></linearGradient>
<linearGradient id="g126" x1="0" y1="0" x2="0" y2="1"><stop offset="0" stop-color="#5c5f61"/><stop offset="0.45" stop-color="#75787a"/><stop offset="0.7" stop-color="#a2a5a6"/><stop offset="1" stop-color="#6a6d6f"/></linearGradient>
<linearGradient id="g127" x1="0" y1="0" x2="1" y2="0"><stop offset="0" stop-color="#fff"/><stop offset="0.9" stop-color="#fff"/><stop offset="1" stop-color="#000"/></linearGradient>
<mask id="rodfade" maskUnits="userSpaceOnUse" x="895" y="1425" width="100" height="55"><rect x="895" y="1425" width="100" height="55" fill="url(#g127)"/></mask>
<linearGradient id="g128" x1="0" y1="0" x2="1" y2="0"><stop offset="0" stop-color="#a4a7a8"/><stop offset="0.2" stop-color="#cfd1d2"/><stop offset="0.45" stop-color="#e0e2e2"/><stop offset="0.75" stop-color="#b9bcbd"/><stop offset="1" stop-color="#999c9d"/></linearGradient>
<linearGradient id="g129" x1="0" y1="0" x2="1" y2="0"><stop offset="0" stop-color="#8e9092"/><stop offset="1" stop-color="#85878a"/></linearGradient>
<linearGradient id="g130" x1="0.05" y1="1" x2="0.9" y2="0"><stop offset="0" stop-color="#f4f4f5"/><stop offset="0.16" stop-color="#e2e3e4"/><stop offset="0.4" stop-color="#b4b6b8"/><stop offset="1" stop-color="#a3a5a7"/></linearGradient>
<linearGradient id="g131" x1="0" y1="0" x2="1" y2="0"><stop offset="0" stop-color="#a3a5a7"/><stop offset="0.5" stop-color="#8c8e90"/><stop offset="1" stop-color="#7a7c7f"/></linearGradient>
<linearGradient id="g132" x1="0" y1="1" x2="1" y2="0"><stop offset="0" stop-color="#a9abad"/><stop offset="0.4" stop-color="#8b8d8f"/><stop offset="1" stop-color="#7e8082"/></linearGradient>
<linearGradient id="g133" x1="0" y1="1" x2="1" y2="0"><stop offset="0" stop-color="#c4c6c7"/><stop offset="0.5" stop-color="#a5a7a9"/><stop offset="1" stop-color="#999b9d"/></linearGradient>
<linearGradient id="g134" x1="0" y1="1" x2="1" y2="0"><stop offset="0" stop-color="#f7f7f8"/><stop offset="0.55" stop-color="#ededee"/><stop offset="1" stop-color="#e3e4e5"/></linearGradient>
<linearGradient id="g135" x1="0" y1="1" x2="1" y2="0"><stop offset="0" stop-color="#f3f3f4"/><stop offset="0.18" stop-color="#eeeeef"/><stop offset="0.45" stop-color="#c2c4c5"/><stop offset="0.75" stop-color="#abadaf"/><stop offset="1" stop-color="#a5a7a9"/></linearGradient>
<linearGradient id="g136" x1="0" y1="1" x2="1" y2="0"><stop offset="0" stop-color="#b1b3b5"/><stop offset="1" stop-color="#a3a5a7"/></linearGradient>
<linearGradient id="g137" x1="0" y1="0" x2="0.35" y2="1"><stop offset="0" stop-color="#6d7375"/><stop offset="0.25" stop-color="#8b9193"/><stop offset="0.6" stop-color="#70767a"/><stop offset="1" stop-color="#3f4548"/></linearGradient>
<linearGradient id="g138" x1="0" y1="0" x2="0.2" y2="1"><stop offset="0" stop-color="#8b9193"/><stop offset="0.3" stop-color="#c6cacb"/><stop offset="0.55" stop-color="#9aa0a2"/><stop offset="0.8" stop-color="#5d6366"/><stop offset="1" stop-color="#3c4144"/></linearGradient>
<linearGradient id="g139" x1="0" y1="0" x2="1" y2="1"><stop offset="0" stop-color="#8b9193"/><stop offset="0.3" stop-color="#9ea4a6"/><stop offset="0.7" stop-color="#a5abad"/><stop offset="1" stop-color="#8f9597"/></linearGradient>
<filter id="blur4" x="-50%" y="-50%" width="200%" height="200%"><feGaussianBlur stdDeviation="3.5"/></filter>
<radialGradient id="r140" cx="0.5" cy="0.5" r="0.5"><stop offset="0" stop-color="#fbfcfc"/><stop offset="0.7" stop-color="#f5f7f8"/><stop offset="0.93" stop-color="#e6eaec"/><stop offset="1" stop-color="#d3d9dc"/></radialGradient>
</defs>
<g id="prime" filter="url(#soft)">
<path d="M150.10,337.19 L154.60,337.19 L154.60,337.19 L154.60,345.31 L154.60,345.31 L150.10,345.31 A1.50,1.50 0 0 1 148.60,343.81 L148.60,338.69 A1.50,1.50 0 0 1 150.10,337.19 Z" fill="url(#g2)"/>
<path d="M240.00,334.90 L154.80,334.90 Q153.60,336.17 153.60,341.25 Q153.60,346.33 154.80,347.60 L240.00,347.60 Z" fill="url(#g1)"/>
<path d="M155.00,347.00 L157.31,335.50 M155.00,335.50 L157.31,347.00 M159.20,347.00 L161.51,335.50 M159.20,335.50 L161.51,347.00 M163.40,347.00 L165.71,335.50 M163.40,335.50 L165.71,347.00 M167.60,347.00 L169.91,335.50 M167.60,335.50 L169.91,347.00 M171.80,347.00 L174.11,335.50 M171.80,335.50 L174.11,347.00 M176.00,347.00 L178.31,335.50 M176.00,335.50 L178.31,347.00 M180.20,347.00 L182.51,335.50 M180.20,335.50 L182.51,347.00 M184.40,347.00 L186.71,335.50 M184.40,335.50 L186.71,347.00 M188.60,347.00 L190.91,335.50 M188.60,335.50 L190.91,347.00 M192.80,347.00 L195.11,335.50 M192.80,335.50 L195.11,347.00 M197.00,347.00 L199.31,335.50 M197.00,335.50 L199.31,347.00 M201.20,347.00 L203.51,335.50 M201.20,335.50 L203.51,347.00 M205.40,347.00 L207.71,335.50 M205.40,335.50 L207.71,347.00 M209.60,347.00 L211.91,335.50 M209.60,335.50 L211.91,347.00 M213.80,347.00 L216.11,335.50 M213.80,335.50 L216.11,347.00 M218.00,347.00 L220.31,335.50 M218.00,335.50 L220.31,347.00 M222.20,347.00 L224.51,335.50 M222.20,335.50 L224.51,347.00 M226.40,347.00 L228.71,335.50 M226.40,335.50 L228.71,347.00 M230.60,347.00 L232.91,335.50 M230.60,335.50 L232.91,347.00 M234.80,347.00 L237.11,335.50 M234.80,335.50 L237.11,347.00" stroke="#7a7c80" stroke-width="1.76" fill="none" opacity="0.5"/>
<path d="M333.50,369.00 L338.00,369.00 A1.50,1.50 0 0 1 339.50,370.50 L339.50,373.90 A1.50,1.50 0 0 1 338.00,375.40 L333.50,375.40 L333.50,375.40 L333.50,369.00 L333.50,369.00 Z" fill="url(#g4)"/>
<path d="M259.00,367.20 L333.30,367.20 Q334.50,368.20 334.50,372.20 Q334.50,376.20 333.30,377.20 L259.00,377.20 Z" fill="url(#g3)"/>
<path d="M270.00,376.60 L271.65,367.80 M273.00,376.60 L274.65,367.80 M276.00,376.60 L277.65,367.80 M279.00,376.60 L280.65,367.80 M282.00,376.60 L283.65,367.80 M285.00,376.60 L286.65,367.80 M288.00,376.60 L289.65,367.80 M291.00,376.60 L292.65,367.80 M294.00,376.60 L295.65,367.80 M297.00,376.60 L298.65,367.80 M300.00,376.60 L301.65,367.80 M303.00,376.60 L304.65,367.80 M306.00,376.60 L307.65,367.80 M309.00,376.60 L310.65,367.80 M312.00,376.60 L313.65,367.80 M315.00,376.60 L316.65,367.80 M318.00,376.60 L319.65,367.80 M321.00,376.60 L322.65,367.80 M324.00,376.60 L325.65,367.80 M327.00,376.60 L328.65,367.80 M330.00,376.60 L331.65,367.80" stroke="#66686c" stroke-width="1.26" fill="none" opacity="0.45"/>
<path d="M333.50,406.69 L338.00,406.69 A1.50,1.50 0 0 1 339.50,408.19 L339.50,411.91 A1.50,1.50 0 0 1 338.00,413.41 L333.50,413.41 L333.50,413.41 L333.50,406.69 L333.50,406.69 Z" fill="url(#g6)"/>
<path d="M259.00,404.80 L333.30,404.80 Q334.50,405.85 334.50,410.05 Q334.50,414.25 333.30,415.30 L259.00,415.30 Z" fill="url(#g5)"/>
<path d="M270.00,414.70 L271.65,405.40 M273.00,414.70 L274.65,405.40 M276.00,414.70 L277.65,405.40 M279.00,414.70 L280.65,405.40 M282.00,414.70 L283.65,405.40 M285.00,414.70 L286.65,405.40 M288.00,414.70 L289.65,405.40 M291.00,414.70 L292.65,405.40 M294.00,414.70 L295.65,405.40 M297.00,414.70 L298.65,405.40 M300.00,414.70 L301.65,405.40 M303.00,414.70 L304.65,405.40 M306.00,414.70 L307.65,405.40 M309.00,414.70 L310.65,405.40 M312.00,414.70 L313.65,405.40 M315.00,414.70 L316.65,405.40 M318.00,414.70 L319.65,405.40 M321.00,414.70 L322.65,405.40 M324.00,414.70 L325.65,405.40 M327.00,414.70 L328.65,405.40 M330.00,414.70 L331.65,405.40" stroke="#66686c" stroke-width="1.26" fill="none" opacity="0.45"/>
<path d="M244.70,297.70 L253.70,297.70 A7.00,7.00 0 0 1 260.70,304.70 L260.70,362.50 A0.50,0.50 0 0 1 260.20,363.00 L238.20,363.00 A0.50,0.50 0 0 1 237.70,362.50 L237.70,304.70 A7.00,7.00 0 0 1 244.70,297.70 Z" fill="url(#g7)"/>
<path d="M238.80,363.00 L259.70,363.00 A0.50,0.50 0 0 1 260.20,363.50 L260.20,441.40 A5.00,5.00 0 0 1 255.20,446.40 L243.30,446.40 A5.00,5.00 0 0 1 238.30,441.40 L238.30,363.50 A0.50,0.50 0 0 1 238.80,363.00 Z" fill="url(#g8)"/>
<line x1="238.00" y1="363.00" x2="260.50" y2="363.00" stroke="#7b7e84" stroke-width="1.0"/>
<line x1="239.00" y1="383.00" x2="259.80" y2="383.00" stroke="#9a9da3" stroke-width="0.8"/>
</g>
<g id="rising" filter="url(#soft)">
<path d="M488.00,338.36 L491.50,338.36 L491.50,338.36 L491.50,346.04 L491.50,346.04 L488.00,346.04 A1.50,1.50 0 0 1 486.50,344.54 L486.50,339.86 A1.50,1.50 0 0 1 488.00,338.36 Z" fill="url(#g10)"/>
<path d="M571.00,336.20 L491.70,336.20 Q490.50,337.40 490.50,342.20 Q490.50,347.00 491.70,348.20 L571.00,348.20 Z" fill="url(#g9)"/>
<path d="M494.00,347.60 L495.43,336.80 M496.60,347.60 L498.03,336.80 M499.20,347.60 L500.63,336.80 M501.80,347.60 L503.23,336.80 M504.40,347.60 L505.83,336.80 M507.00,347.60 L508.43,336.80 M509.60,347.60 L511.03,336.80 M512.20,347.60 L513.63,336.80 M514.80,347.60 L516.23,336.80 M517.40,347.60 L518.83,336.80 M520.00,347.60 L521.43,336.80 M522.60,347.60 L524.03,336.80 M525.20,347.60 L526.63,336.80 M527.80,347.60 L529.23,336.80 M530.40,347.60 L531.83,336.80 M533.00,347.60 L534.43,336.80 M535.60,347.60 L537.03,336.80 M538.20,347.60 L539.63,336.80 M540.80,347.60 L542.23,336.80 M543.40,347.60 L544.83,336.80 M546.00,347.60 L547.43,336.80 M548.60,347.60 L550.03,336.80 M551.20,347.60 L552.63,336.80 M553.80,347.60 L555.23,336.80 M556.40,347.60 L557.83,336.80 M559.00,347.60 L560.43,336.80 M561.60,347.60 L563.03,336.80" stroke="#6b6d71" stroke-width="1.09" fill="none" opacity="0.4"/>
<path d="M673.10,397.81 L676.60,397.81 A1.50,1.50 0 0 1 678.10,399.31 L678.10,403.09 A1.50,1.50 0 0 1 676.60,404.59 L673.10,404.59 L673.10,404.59 L673.10,397.81 L673.10,397.81 Z" fill="url(#g12)"/>
<path d="M593.00,395.90 L672.90,395.90 Q674.10,396.96 674.10,401.20 Q674.10,405.44 672.90,406.50 L593.00,406.50 Z" fill="url(#g11)"/>
<path d="M608.00,405.90 L609.43,396.50 M610.60,405.90 L612.03,396.50 M613.20,405.90 L614.63,396.50 M615.80,405.90 L617.23,396.50 M618.40,405.90 L619.83,396.50 M621.00,405.90 L622.43,396.50 M623.60,405.90 L625.03,396.50 M626.20,405.90 L627.63,396.50 M628.80,405.90 L630.23,396.50 M631.40,405.90 L632.83,396.50 M634.00,405.90 L635.43,396.50 M636.60,405.90 L638.03,396.50 M639.20,405.90 L640.63,396.50 M641.80,405.90 L643.23,396.50 M644.40,405.90 L645.83,396.50 M647.00,405.90 L648.43,396.50 M649.60,405.90 L651.03,396.50 M652.20,405.90 L653.63,396.50 M654.80,405.90 L656.23,396.50 M657.40,405.90 L658.83,396.50 M660.00,405.90 L661.43,396.50 M662.60,405.90 L664.03,396.50 M665.20,405.90 L666.63,396.50 M667.80,405.90 L669.23,396.50 M670.40,405.90 L671.83,396.50" stroke="#6b6d71" stroke-width="1.09" fill="none" opacity="0.45"/>
<path d="M673.10,433.81 L676.60,433.81 A1.50,1.50 0 0 1 678.10,435.31 L678.10,439.09 A1.50,1.50 0 0 1 676.60,440.59 L673.10,440.59 L673.10,440.59 L673.10,433.81 L673.10,433.81 Z" fill="url(#g14)"/>
<path d="M593.00,431.90 L672.90,431.90 Q674.10,432.96 674.10,437.20 Q674.10,441.44 672.90,442.50 L593.00,442.50 Z" fill="url(#g13)"/>
<path d="M608.00,441.90 L609.43,432.50 M610.60,441.90 L612.03,432.50 M613.20,441.90 L614.63,432.50 M615.80,441.90 L617.23,432.50 M618.40,441.90 L619.83,432.50 M621.00,441.90 L622.43,432.50 M623.60,441.90 L625.03,432.50 M626.20,441.90 L627.63,432.50 M628.80,441.90 L630.23,432.50 M631.40,441.90 L632.83,432.50 M634.00,441.90 L635.43,432.50 M636.60,441.90 L638.03,432.50 M639.20,441.90 L640.63,432.50 M641.80,441.90 L643.23,432.50 M644.40,441.90 L645.83,432.50 M647.00,441.90 L648.43,432.50 M649.60,441.90 L651.03,432.50 M652.20,441.90 L653.63,432.50 M654.80,441.90 L656.23,432.50 M657.40,441.90 L658.83,432.50 M660.00,441.90 L661.43,432.50 M662.60,441.90 L664.03,432.50 M665.20,441.90 L666.63,432.50 M667.80,441.90 L669.23,432.50 M670.40,441.90 L671.83,432.50" stroke="#6b6d71" stroke-width="1.09" fill="none" opacity="0.45"/>
<rect x="572.20" y="354.00" width="18.80" height="12.00" fill="#a3a6ab"/>
<path d="M573,364 L580,356.5 M578,364.5 L585,356.5 M583,364.5 L590,357" stroke="#3f4246" stroke-width="1.5" fill="none"/>
<path d="M572.90,325.20 L590.40,325.20 A3.50,3.50 0 0 1 593.90,328.70 L593.90,354.50 A1.00,1.00 0 0 1 592.90,355.50 L570.40,355.50 A1.00,1.00 0 0 1 569.40,354.50 L569.40,328.70 A3.50,3.50 0 0 1 572.90,325.20 Z" fill="url(#g15)"/>
<path d="M571.10,364.80 L592.80,364.80 A1.50,1.50 0 0 1 594.30,366.30 L594.30,454.10 A1.50,1.50 0 0 1 592.80,455.60 L571.10,455.60 A1.50,1.50 0 0 1 569.60,454.10 L569.60,366.30 A1.50,1.50 0 0 1 571.10,364.80 Z" fill="url(#g16)"/>
<path d="M578.2,390.5 L578.2,398.3 L586.5,398.3 L586.5,394" stroke="#5d6065" stroke-width="1" fill="none"/>
<line x1="570.00" y1="391.50" x2="578.00" y2="391.50" stroke="#c9ccd0" stroke-width="0.8"/>
</g>
<g id="two_wood" filter="url(#soft)">
<path d="M906.50,360.60 L822.70,360.60 Q818.70,361.88 818.70,367.00 Q818.70,372.12 822.70,373.40 L906.50,373.40 Z" fill="url(#g17)"/>
<path d="M826.00,372.80 L827.87,361.20 M826.00,361.20 L827.87,372.80 M829.40,372.80 L831.27,361.20 M829.40,361.20 L831.27,372.80 M832.80,372.80 L834.67,361.20 M832.80,361.20 L834.67,372.80 M836.20,372.80 L838.07,361.20 M836.20,361.20 L838.07,372.80 M839.60,372.80 L841.47,361.20 M839.60,361.20 L841.47,372.80 M843.00,372.80 L844.87,361.20 M843.00,361.20 L844.87,372.80 M846.40,372.80 L848.27,361.20 M846.40,361.20 L848.27,372.80 M849.80,372.80 L851.67,361.20 M849.80,361.20 L851.67,372.80 M853.20,372.80 L855.07,361.20 M853.20,361.20 L855.07,372.80 M856.60,372.80 L858.47,361.20 M856.60,361.20 L858.47,372.80 M860.00,372.80 L861.87,361.20 M860.00,361.20 L861.87,372.80 M863.40,372.80 L865.27,361.20 M863.40,361.20 L865.27,372.80 M866.80,372.80 L868.67,361.20 M866.80,361.20 L868.67,372.80 M870.20,372.80 L872.07,361.20 M870.20,361.20 L872.07,372.80 M873.60,372.80 L875.47,361.20 M873.60,361.20 L875.47,372.80 M877.00,372.80 L878.87,361.20 M877.00,361.20 L878.87,372.80 M880.40,372.80 L882.27,361.20 M880.40,361.20 L882.27,372.80" stroke="#707276" stroke-width="1.43" fill="none" opacity="0.4"/>
<path d="M1002.60,396.62 L1008.10,396.62 A1.50,1.50 0 0 1 1009.60,398.12 L1009.60,402.28 A1.50,1.50 0 0 1 1008.10,403.78 L1002.60,403.78 L1002.60,403.78 L1002.60,396.62 L1002.60,396.62 Z" fill="url(#g19)"/>
<path d="M928.00,394.60 L1002.40,394.60 Q1003.60,395.72 1003.60,400.20 Q1003.60,404.68 1002.40,405.80 L928.00,405.80 Z" fill="url(#g18)"/>
<path d="M942.00,405.20 L943.43,395.20 M944.60,405.20 L946.03,395.20 M947.20,405.20 L948.63,395.20 M949.80,405.20 L951.23,395.20 M952.40,405.20 L953.83,395.20 M955.00,405.20 L956.43,395.20 M957.60,405.20 L959.03,395.20 M960.20,405.20 L961.63,395.20 M962.80,405.20 L964.23,395.20 M965.40,405.20 L966.83,395.20 M968.00,405.20 L969.43,395.20 M970.60,405.20 L972.03,395.20 M973.20,405.20 L974.63,395.20 M975.80,405.20 L977.23,395.20 M978.40,405.20 L979.83,395.20 M981.00,405.20 L982.43,395.20 M983.60,405.20 L985.03,395.20 M986.20,405.20 L987.63,395.20 M988.80,405.20 L990.23,395.20 M991.40,405.20 L992.83,395.20 M994.00,405.20 L995.43,395.20 M996.60,405.20 L998.03,395.20 M999.20,405.20 L1000.63,395.20" stroke="#6e7074" stroke-width="1.09" fill="none" opacity="0.22"/>
<path d="M1002.60,435.84 L1008.10,435.84 A1.50,1.50 0 0 1 1009.60,437.34 L1009.60,440.86 A1.50,1.50 0 0 1 1008.10,442.36 L1002.60,442.36 L1002.60,442.36 L1002.60,435.84 L1002.60,435.84 Z" fill="url(#g21)"/>
<path d="M928.00,434.00 L1002.40,434.00 Q1003.60,435.02 1003.60,439.10 Q1003.60,443.18 1002.40,444.20 L928.00,444.20 Z" fill="url(#g20)"/>
<path d="M942.00,443.60 L943.43,434.60 M944.60,443.60 L946.03,434.60 M947.20,443.60 L948.63,434.60 M949.80,443.60 L951.23,434.60 M952.40,443.60 L953.83,434.60 M955.00,443.60 L956.43,434.60 M957.60,443.60 L959.03,434.60 M960.20,443.60 L961.63,434.60 M962.80,443.60 L964.23,434.60 M965.40,443.60 L966.83,434.60 M968.00,443.60 L969.43,434.60 M970.60,443.60 L972.03,434.60 M973.20,443.60 L974.63,434.60 M975.80,443.60 L977.23,434.60 M978.40,443.60 L979.83,434.60 M981.00,443.60 L982.43,434.60 M983.60,443.60 L985.03,434.60 M986.20,443.60 L987.63,434.60 M988.80,443.60 L990.23,434.60 M991.40,443.60 L992.83,434.60 M994.00,443.60 L995.43,434.60 M996.60,443.60 L998.03,434.60 M999.20,443.60 L1000.63,434.60" stroke="#6e7074" stroke-width="1.09" fill="none" opacity="0.22"/>
<path d="M908.60,338.60 L925.40,338.60 A3.50,3.50 0 0 1 928.90,342.10 L928.90,385.90 A1.50,1.50 0 0 1 927.40,387.40 L906.60,387.40 A1.50,1.50 0 0 1 905.10,385.90 L905.10,342.10 A3.50,3.50 0 0 1 908.60,338.60 Z" fill="url(#g22)"/>
<path d="M907.10,389.30 L927.60,389.30 A2.00,2.00 0 0 1 929.60,391.30 L929.60,453.60 A2.00,2.00 0 0 1 927.60,455.60 L907.10,455.60 A2.00,2.00 0 0 1 905.10,453.60 L905.10,391.30 A2.00,2.00 0 0 1 907.10,389.30 Z" fill="url(#g23)"/>
<rect x="905.30" y="387.00" width="23.90" height="2.80" fill="#b9bcc0"/>
<line x1="905.50" y1="388.40" x2="929.00" y2="388.40" stroke="#dcdee0" stroke-width="1.0"/>
</g>
<g id="two_steel" filter="url(#soft)">
<path d="M1246.00,336.90 L1157.20,336.90 Q1151.20,338.32 1151.20,344.00 Q1151.20,349.68 1157.20,351.10 L1246.00,351.10 Z" fill="url(#g24)"/>
<path d="M1160.00,350.50 L1161.76,337.50 M1163.20,350.50 L1164.96,337.50 M1166.40,350.50 L1168.16,337.50 M1169.60,350.50 L1171.36,337.50 M1172.80,350.50 L1174.56,337.50 M1176.00,350.50 L1177.76,337.50 M1179.20,350.50 L1180.96,337.50 M1182.40,350.50 L1184.16,337.50 M1185.60,350.50 L1187.36,337.50 M1188.80,350.50 L1190.56,337.50 M1192.00,350.50 L1193.76,337.50 M1195.20,350.50 L1196.96,337.50 M1198.40,350.50 L1200.16,337.50 M1201.60,350.50 L1203.36,337.50 M1204.80,350.50 L1206.56,337.50 M1208.00,350.50 L1209.76,337.50 M1211.20,350.50 L1212.96,337.50 M1214.40,350.50 L1216.16,337.50 M1217.60,350.50 L1219.36,337.50 M1220.80,350.50 L1222.56,337.50 M1224.00,350.50 L1225.76,337.50 M1227.20,350.50 L1228.96,337.50 M1230.40,350.50 L1232.16,337.50 M1233.60,350.50 L1235.36,337.50 M1236.80,350.50 L1238.56,337.50 M1240.00,350.50 L1241.76,337.50" stroke="#5f6266" stroke-width="1.34" fill="none" opacity="0.5"/>
<rect x="1243.00" y="339.20" width="16.00" height="9.80" fill="url(#g25)"/>
<path d="M1284,384.3 L1338.5,384.3 Q1341.7,384.3 1341.7,387.5 L1341.7,410.2 L1329.5,410.2 L1328.5,412 L1314.3,412 A9.1,9.1 0 1 0 1314.3,430.2 L1328.5,430.2 L1329.5,431.8 L1341.7,431.8 L1341.7,454 Q1341.7,457 1338.5,457 L1284,457 Z" fill="url(#g26)"/>
<rect x="1311.40" y="393.60" width="24.50" height="7.40" rx="3.7" fill="#ffffff"/>
<rect x="1311.40" y="440.40" width="24.50" height="7.40" rx="3.7" fill="#ffffff"/>
<path d="M1260.40,311.60 L1281.80,311.60 A3.00,3.00 0 0 1 1284.80,314.60 L1284.80,367.00 A1.00,1.00 0 0 1 1283.80,368.00 L1258.40,368.00 A1.00,1.00 0 0 1 1257.40,367.00 L1257.40,314.60 A3.00,3.00 0 0 1 1260.40,311.60 Z" fill="url(#g27)"/>
<path d="M1259.40,370.40 L1282.80,370.40 A2.00,2.00 0 0 1 1284.80,372.40 L1284.80,456.30 A1.50,1.50 0 0 1 1283.30,457.80 L1258.90,457.80 A1.50,1.50 0 0 1 1257.40,456.30 L1257.40,372.40 A2.00,2.00 0 0 1 1259.40,370.40 Z" fill="url(#g28)"/>
<rect x="1257.80" y="367.30" width="26.80" height="3.90" fill="#8f9399"/>
<line x1="1258.00" y1="369.20" x2="1284.40" y2="369.20" stroke="#73767d" stroke-width="1.2"/>
</g>
<g id="three_wood" filter="url(#soft)">
<path d="M153.70,643.13 L157.20,643.13 L157.20,643.13 L157.20,650.37 L157.20,650.37 L153.70,650.37 A1.50,1.50 0 0 1 152.20,648.87 L152.20,644.63 A1.50,1.50 0 0 1 153.70,643.13 Z" fill="url(#g30)"/>
<path d="M236.50,641.10 L157.40,641.10 Q156.20,642.23 156.20,646.75 Q156.20,651.27 157.40,652.40 L236.50,652.40 Z" fill="url(#g29)"/>
<path d="M160.00,651.80 L162.09,641.70 M160.00,641.70 L162.09,651.80 M163.80,651.80 L165.89,641.70 M163.80,641.70 L165.89,651.80 M167.60,651.80 L169.69,641.70 M167.60,641.70 L169.69,651.80 M171.40,651.80 L173.49,641.70 M171.40,641.70 L173.49,651.80 M175.20,651.80 L177.29,641.70 M175.20,641.70 L177.29,651.80 M179.00,651.80 L181.09,641.70 M179.00,641.70 L181.09,651.80 M182.80,651.80 L184.89,641.70 M182.80,641.70 L184.89,651.80 M186.60,651.80 L188.69,641.70 M186.60,641.70 L188.69,651.80 M190.40,651.80 L192.49,641.70 M190.40,641.70 L192.49,651.80 M194.20,651.80 L196.29,641.70 M194.20,641.70 L196.29,651.80 M198.00,651.80 L200.09,641.70 M198.00,641.70 L200.09,651.80 M201.80,651.80 L203.89,641.70 M201.80,641.70 L203.89,651.80 M205.60,651.80 L207.69,641.70 M205.60,641.70 L207.69,651.80 M209.40,651.80 L211.49,641.70 M209.40,641.70 L211.49,651.80 M213.20,651.80 L215.29,641.70 M213.20,641.70 L215.29,651.80 M217.00,651.80 L219.09,641.70 M217.00,641.70 L219.09,651.80 M220.80,651.80 L222.89,641.70 M220.80,641.70 L222.89,651.80 M224.60,651.80 L226.69,641.70 M224.60,641.70 L226.69,651.80" stroke="#6a6c70" stroke-width="1.60" fill="none" opacity="0.5"/>
<path d="M153.70,760.66 L157.20,760.66 L157.20,760.66 L157.20,768.34 L157.20,768.34 L153.70,768.34 A1.50,1.50 0 0 1 152.20,766.84 L152.20,762.16 A1.50,1.50 0 0 1 153.70,760.66 Z" fill="url(#g32)"/>
<path d="M236.50,758.50 L157.40,758.50 Q156.20,759.70 156.20,764.50 Q156.20,769.30 157.40,770.50 L236.50,770.50 Z" fill="url(#g31)"/>
<path d="M160.00,769.90 L162.09,759.10 M160.00,759.10 L162.09,769.90 M163.80,769.90 L165.89,759.10 M163.80,759.10 L165.89,769.90 M167.60,769.90 L169.69,759.10 M167.60,759.10 L169.69,769.90 M171.40,769.90 L173.49,759.10 M171.40,759.10 L173.49,769.90 M175.20,769.90 L177.29,759.10 M175.20,759.10 L177.29,769.90 M179.00,769.90 L181.09,759.10 M179.00,759.10 L181.09,769.90 M182.80,769.90 L184.89,759.10 M182.80,759.10 L184.89,769.90 M186.60,769.90 L188.69,759.10 M186.60,759.10 L188.69,769.90 M190.40,769.90 L192.49,759.10 M190.40,759.10 L192.49,769.90 M194.20,769.90 L196.29,759.10 M194.20,759.10 L196.29,769.90 M198.00,769.90 L200.09,759.10 M198.00,759.10 L200.09,769.90 M201.80,769.90 L203.89,759.10 M201.80,759.10 L203.89,769.90 M205.60,769.90 L207.69,759.10 M205.60,759.10 L207.69,769.90 M209.40,769.90 L211.49,759.10 M209.40,759.10 L211.49,769.90 M213.20,769.90 L215.29,759.10 M213.20,759.10 L215.29,769.90 M217.00,769.90 L219.09,759.10 M217.00,759.10 L219.09,769.90 M220.80,769.90 L222.89,759.10 M220.80,759.10 L222.89,769.90" stroke="#6a6c70" stroke-width="1.60" fill="none" opacity="0.5"/>
<path d="M338.90,693.28 L342.40,693.28 A1.50,1.50 0 0 1 343.90,694.78 L343.90,698.12 A1.50,1.50 0 0 1 342.40,699.62 L338.90,699.62 L338.90,699.62 L338.90,693.28 L338.90,693.28 Z" fill="url(#g34)"/>
<path d="M258.50,691.50 L338.70,691.50 Q339.90,692.49 339.90,696.45 Q339.90,700.41 338.70,701.40 L258.50,701.40 Z" fill="url(#g33)"/>
<path d="M273.00,700.80 L275.20,692.10 M277.00,700.80 L279.20,692.10 M281.00,700.80 L283.20,692.10 M285.00,700.80 L287.20,692.10 M289.00,700.80 L291.20,692.10 M293.00,700.80 L295.20,692.10 M297.00,700.80 L299.20,692.10 M301.00,700.80 L303.20,692.10 M305.00,700.80 L307.20,692.10 M309.00,700.80 L311.20,692.10 M313.00,700.80 L315.20,692.10 M317.00,700.80 L319.20,692.10 M321.00,700.80 L323.20,692.10 M325.00,700.80 L327.20,692.10 M329.00,700.80 L331.20,692.10 M333.00,700.80 L335.20,692.10" stroke="#55575b" stroke-width="1.68" fill="none" opacity="0.65"/>
<path d="M338.90,730.11 L342.40,730.11 A1.50,1.50 0 0 1 343.90,731.61 L343.90,735.39 A1.50,1.50 0 0 1 342.40,736.89 L338.90,736.89 L338.90,736.89 L338.90,730.11 L338.90,730.11 Z" fill="url(#g36)"/>
<path d="M258.50,728.20 L338.70,728.20 Q339.90,729.26 339.90,733.50 Q339.90,737.74 338.70,738.80 L258.50,738.80 Z" fill="url(#g35)"/>
<path d="M273.00,738.20 L275.20,728.80 M277.00,738.20 L279.20,728.80 M281.00,738.20 L283.20,728.80 M285.00,738.20 L287.20,728.80 M289.00,738.20 L291.20,728.80 M293.00,738.20 L295.20,728.80 M297.00,738.20 L299.20,728.80 M301.00,738.20 L303.20,728.80 M305.00,738.20 L307.20,728.80 M309.00,738.20 L311.20,728.80 M313.00,738.20 L315.20,728.80 M317.00,738.20 L319.20,728.80 M321.00,738.20 L323.20,728.80 M325.00,738.20 L327.20,728.80 M329.00,738.20 L331.20,728.80 M333.00,738.20 L335.20,728.80" stroke="#55575b" stroke-width="1.68" fill="none" opacity="0.65"/>
<path d="M238.10,624.40 L256.60,624.40 A3.00,3.00 0 0 1 259.60,627.40 L259.60,665.10 A0.50,0.50 0 0 1 259.10,665.60 L235.60,665.60 A0.50,0.50 0 0 1 235.10,665.10 L235.10,627.40 A3.00,3.00 0 0 1 238.10,624.40 Z" fill="url(#g37)"/>
<path d="M235.80,665.60 L258.90,665.60 A0.50,0.50 0 0 1 259.40,666.10 L259.40,744.90 A0.50,0.50 0 0 1 258.90,745.40 L235.80,745.40 A0.50,0.50 0 0 1 235.30,744.90 L235.30,666.10 A0.50,0.50 0 0 1 235.80,665.60 Z" fill="url(#g38)"/>
<path d="M235.60,745.40 L259.10,745.40 A0.50,0.50 0 0 1 259.60,745.90 L259.60,784.00 A2.50,2.50 0 0 1 257.10,786.50 L237.60,786.50 A2.50,2.50 0 0 1 235.10,784.00 L235.10,745.90 A0.50,0.50 0 0 1 235.60,745.40 Z" fill="url(#g39)"/>
<line x1="235.40" y1="665.60" x2="259.30" y2="665.60" stroke="#777a80" stroke-width="1.0"/>
<line x1="235.40" y1="745.40" x2="259.30" y2="745.40" stroke="#777a80" stroke-width="1.0"/>
</g>
<g id="three_steel" filter="url(#soft)">
<path d="M594.00,602.60 L491.50,602.60 Q486.50,603.94 486.50,609.30 Q486.50,614.66 491.50,616.00 L594.00,616.00 Z" fill="url(#g40)"/>
<path d="M494.00,615.40 L495.65,603.20 M497.00,615.40 L498.65,603.20 M500.00,615.40 L501.65,603.20 M503.00,615.40 L504.65,603.20 M506.00,615.40 L507.65,603.20 M509.00,615.40 L510.65,603.20 M512.00,615.40 L513.65,603.20 M515.00,615.40 L516.65,603.20 M518.00,615.40 L519.65,603.20 M521.00,615.40 L522.65,603.20 M524.00,615.40 L525.65,603.20 M527.00,615.40 L528.65,603.20 M530.00,615.40 L531.65,603.20 M533.00,615.40 L534.65,603.20 M536.00,615.40 L537.65,603.20 M539.00,615.40 L540.65,603.20 M542.00,615.40 L543.65,603.20 M545.00,615.40 L546.65,603.20 M548.00,615.40 L549.65,603.20 M551.00,615.40 L552.65,603.20 M554.00,615.40 L555.65,603.20 M557.00,615.40 L558.65,603.20 M560.00,615.40 L561.65,603.20 M563.00,615.40 L564.65,603.20 M566.00,615.40 L567.65,603.20 M569.00,615.40 L570.65,603.20 M572.00,615.40 L573.65,603.20" stroke="#6d7075" stroke-width="1.26" fill="none" opacity="0.35"/>
<path d="M594.00,748.80 L494.40,748.80 Q489.40,750.22 489.40,755.90 Q489.40,761.58 494.40,763.00 L594.00,763.00 Z" fill="url(#g41)"/>
<path d="M497.00,762.40 L498.65,749.40 M500.00,762.40 L501.65,749.40 M503.00,762.40 L504.65,749.40 M506.00,762.40 L507.65,749.40 M509.00,762.40 L510.65,749.40 M512.00,762.40 L513.65,749.40 M515.00,762.40 L516.65,749.40 M518.00,762.40 L519.65,749.40 M521.00,762.40 L522.65,749.40 M524.00,762.40 L525.65,749.40 M527.00,762.40 L528.65,749.40 M530.00,762.40 L531.65,749.40 M533.00,762.40 L534.65,749.40 M536.00,762.40 L537.65,749.40 M539.00,762.40 L540.65,749.40 M542.00,762.40 L543.65,749.40 M545.00,762.40 L546.65,749.40 M548.00,762.40 L549.65,749.40 M551.00,762.40 L552.65,749.40 M554.00,762.40 L555.65,749.40 M557.00,762.40 L558.65,749.40 M560.00,762.40 L561.65,749.40 M563.00,762.40 L564.65,749.40 M566.00,762.40 L567.65,749.40 M569.00,762.40 L570.65,749.40 M572.00,762.40 L573.65,749.40" stroke="#6d7075" stroke-width="1.26" fill="none" opacity="0.35"/>
<path d="M622.5,645.8 L672,647.6 Q674.6,647.8 674.6,650.4 L674.6,676.7 L644,676.7 A6.1,6.1 0 0 0 644,688.9 L674.6,688.9 L674.6,713.6 Q674.6,716 672,716.3 L622.5,718.4 Z" fill="url(#g42)"/>
<rect x="644.30" y="655.00" width="29.50" height="8.00" rx="3.6" fill="#ffffff"/>
<rect x="644.30" y="701.90" width="29.50" height="7.90" rx="3.6" fill="#ffffff"/>
<rect x="673.60" y="651.60" width="4.30" height="21.40" rx="1.2" fill="url(#g43)"/>
<rect x="673.60" y="691.60" width="4.30" height="20.60" rx="1.2" fill="url(#g44)"/>
<path d="M594.90,579.40 L620.90,579.40 A2.50,2.50 0 0 1 623.40,581.90 L623.40,631.50 A0.50,0.50 0 0 1 622.90,632.00 L592.90,632.00 A0.50,0.50 0 0 1 592.40,631.50 L592.40,581.90 A2.50,2.50 0 0 1 594.90,579.40 Z" fill="url(#g45)"/>
<path d="M593.10,632.00 L622.70,632.00 A0.50,0.50 0 0 1 623.20,632.50 L623.20,733.10 A0.50,0.50 0 0 1 622.70,733.60 L593.10,733.60 A0.50,0.50 0 0 1 592.60,733.10 L592.60,632.50 A0.50,0.50 0 0 1 593.10,632.00 Z" fill="url(#g46)"/>
<path d="M592.90,733.60 L622.90,733.60 A0.50,0.50 0 0 1 623.40,734.10 L623.40,783.70 A2.50,2.50 0 0 1 620.90,786.20 L594.90,786.20 A2.50,2.50 0 0 1 592.40,783.70 L592.40,734.10 A0.50,0.50 0 0 1 592.90,733.60 Z" fill="url(#g47)"/>
<line x1="593.00" y1="632.00" x2="623.00" y2="632.00" stroke="#71757b" stroke-width="1.1"/>
<line x1="593.00" y1="733.60" x2="623.00" y2="733.60" stroke="#71757b" stroke-width="1.1"/>
<line x1="593.00" y1="582.60" x2="623.00" y2="582.60" stroke="#c4c7cc" stroke-width="0.9"/>
</g>
<g id="exacta" filter="url(#soft)">
<path d="M901.00,609.00 L821.30,609.00 Q818.30,610.26 818.30,615.30 Q818.30,620.34 821.30,621.60 L901.00,621.60 Z" fill="url(#g48)"/>
<path d="M824.00,621.00 L825.32,609.60 M826.40,621.00 L827.72,609.60 M828.80,621.00 L830.12,609.60 M831.20,621.00 L832.52,609.60 M833.60,621.00 L834.92,609.60 M836.00,621.00 L837.32,609.60 M838.40,621.00 L839.72,609.60 M840.80,621.00 L842.12,609.60 M843.20,621.00 L844.52,609.60 M845.60,621.00 L846.92,609.60 M848.00,621.00 L849.32,609.60 M850.40,621.00 L851.72,609.60 M852.80,621.00 L854.12,609.60 M855.20,621.00 L856.52,609.60 M857.60,621.00 L858.92,609.60 M860.00,621.00 L861.32,609.60 M862.40,621.00 L863.72,609.60 M864.80,621.00 L866.12,609.60 M867.20,621.00 L868.52,609.60 M869.60,621.00 L870.92,609.60 M872.00,621.00 L873.32,609.60 M874.40,621.00 L875.72,609.60 M876.80,621.00 L878.12,609.60 M879.20,621.00 L880.52,609.60 M881.60,621.00 L882.92,609.60 M884.00,621.00 L885.32,609.60" stroke="#8a95a2" stroke-width="1.01" fill="none" opacity="0.35"/>
<path d="M901.00,656.50 L823.40,656.50 Q819.40,657.63 819.40,662.15 Q819.40,666.67 823.40,667.80 L901.00,667.80 Z" fill="url(#g49)"/>
<path d="M927.50,695.50 L1007.60,695.50 Q1009.60,696.75 1009.60,701.75 Q1009.60,706.75 1007.60,708.00 L927.50,708.00 Z" fill="url(#g50)"/>
<path d="M938.00,707.40 L939.32,696.10 M940.40,707.40 L941.72,696.10 M942.80,707.40 L944.12,696.10 M945.20,707.40 L946.52,696.10 M947.60,707.40 L948.92,696.10 M950.00,707.40 L951.32,696.10 M952.40,707.40 L953.72,696.10 M954.80,707.40 L956.12,696.10 M957.20,707.40 L958.52,696.10 M959.60,707.40 L960.92,696.10 M962.00,707.40 L963.32,696.10 M964.40,707.40 L965.72,696.10 M966.80,707.40 L968.12,696.10 M969.20,707.40 L970.52,696.10 M971.60,707.40 L972.92,696.10 M974.00,707.40 L975.32,696.10 M976.40,707.40 L977.72,696.10 M978.80,707.40 L980.12,696.10 M981.20,707.40 L982.52,696.10 M983.60,707.40 L984.92,696.10 M986.00,707.40 L987.32,696.10 M988.40,707.40 L989.72,696.10 M990.80,707.40 L992.12,696.10 M993.20,707.40 L994.52,696.10 M995.60,707.40 L996.92,696.10 M998.00,707.40 L999.32,696.10 M1000.40,707.40 L1001.72,696.10 M1002.80,707.40 L1004.12,696.10" stroke="#8a95a2" stroke-width="1.01" fill="none" opacity="0.45"/>
<path d="M927.50,742.90 L1005.60,742.90 Q1009.60,744.10 1009.60,748.90 Q1009.60,753.70 1005.60,754.90 L927.50,754.90 Z" fill="url(#g51)"/>
<path d="M902.90,598.70 L925.40,598.70 A3.50,3.50 0 0 1 928.90,602.20 L928.90,674.20 A1.00,1.00 0 0 1 927.90,675.20 L900.40,675.20 A1.00,1.00 0 0 1 899.40,674.20 L899.40,602.20 A3.50,3.50 0 0 1 902.90,598.70 Z" fill="url(#g52)"/>
<path d="M900.40,676.60 L927.90,676.60 A1.00,1.00 0 0 1 928.90,677.60 L928.90,757.10 A3.00,3.00 0 0 1 925.90,760.10 L902.40,760.10 A3.00,3.00 0 0 1 899.40,757.10 L899.40,677.60 A1.00,1.00 0 0 1 900.40,676.60 Z" fill="url(#g53)"/>
<line x1="900.00" y1="675.90" x2="928.40" y2="675.90" stroke="#6f7a86" stroke-width="1.2"/>
</g>
<g id="vx7939" filter="url(#soft)">
<path d="M1216,590 Q1216.5,576 1231,575 L1240,575.6 L1240,790.6 L1231,791 Q1217,790.5 1216,777 Z" fill="url(#g54)"/>
<path d="M1239,580.5 L1257,584 L1257,783.5 L1239,779.5 Z" fill="url(#g55)"/>
<path d="M1256.6,575.5 L1273.5,573.5 L1273.5,795 L1256.6,792.5 Z" fill="url(#g56)"/>
<path d="M1274.00,572.70 L1280.60,572.70 A4.00,4.00 0 0 1 1284.60,576.70 L1284.60,793.00 A3.00,3.00 0 0 1 1281.60,796.00 L1274.00,796.00 A1.00,1.00 0 0 1 1273.00,795.00 L1273.00,573.70 A1.00,1.00 0 0 1 1274.00,572.70 Z" fill="url(#g57)"/>
<ellipse cx="1225.60" cy="594.00" rx="4.30" ry="6.60" fill="url(#g58)"/>
<ellipse cx="1231.30" cy="638.70" rx="4.30" ry="6.60" fill="url(#g59)"/>
<ellipse cx="1225.60" cy="685.30" rx="4.30" ry="6.60" fill="url(#g60)"/>
<ellipse cx="1231.30" cy="727.70" rx="4.30" ry="6.60" fill="url(#g61)"/>
<ellipse cx="1225.60" cy="778.20" rx="4.30" ry="6.60" fill="url(#g62)"/>
<path d="M1262.5,628.7 L1330.3,628.7 L1330.3,645.1 L1322,645.1 Q1320,645.1 1320,643.1 L1320,642.5 Q1320,641.0 1318.5,641.0 L1304.7,641.0 Q1303.2,641.0 1303.2,642.5 L1303.2,656.1 Q1303.2,657.6 1304.7,657.6 L1318.5,657.6 Q1320,657.6 1320,656.1 L1320,655.5 Q1320,653.5 1322,653.5 L1330.3,653.5 L1330.3,684.3 L1322,684.3 Q1320,684.3 1320,682.3 L1320,682.0 Q1320,680.5 1318.5,680.5 L1304.7,680.5 Q1303.2,680.5 1303.2,682.0 L1303.2,695.0 Q1303.2,696.5 1304.7,696.5 L1318.5,696.5 Q1320,696.5 1320,695.0 L1320,694.7 Q1320,692.7 1322,692.7 L1330.3,692.7 L1330.3,721.5 L1322,721.5 Q1320,721.5 1320,719.5 L1320,718.6 Q1320,717.1 1318.5,717.1 L1304.7,717.1 Q1303.2,717.1 1303.2,718.6 L1303.2,732.7 Q1303.2,734.2 1304.7,734.2 L1318.5,734.2 Q1320,734.2 1320,732.7 L1320,731.9 Q1320,729.9 1322,729.9 L1330.3,729.9 L1330.3,744.8 L1262.5,744.8 Z" fill="url(#g63)"/>
<rect x="1252.60" y="626.30" width="10.40" height="116.30" rx="1.5" fill="#7d858a"/>
<rect x="1254.30" y="628.20" width="7.50" height="112.20" rx="1" fill="url(#g64)"/>
</g>
<g id="concealed" filter="url(#soft)">
<path d="M226,1043 L236,1041.5 L243.5,1049 L243.5,1075 L226,1075 Z" fill="url(#g65)"/>
<path d="M303,1050 L319.7,1053 L319.7,1142 L303,1146 Z" fill="url(#g66)"/>
<path d="M202.40,1003.60 L202.50,1003.60 A24.70,24.70 0 0 1 227.20,1028.30 L227.20,1174.30 A24.70,24.70 0 0 1 202.50,1199.00 L202.40,1199.00 A24.70,24.70 0 0 1 177.70,1174.30 L177.70,1028.30 A24.70,24.70 0 0 1 202.40,1003.60 Z" fill="url(#g67)"/>
<path d="M278.70,1008.90 L278.80,1008.90 A25.60,25.60 0 0 1 304.40,1034.50 L304.40,1186.00 A25.60,25.60 0 0 1 278.80,1211.60 L278.70,1211.60 A25.60,25.60 0 0 1 253.10,1186.00 L253.10,1034.50 A25.60,25.60 0 0 1 278.70,1008.90 Z" fill="url(#g67)"/>
<rect x="179.50" y="1059.60" width="49.50" height="82.50" fill="url(#g68)"/>
<rect x="181.00" y="1062.00" width="41.00" height="8.00" fill="url(#g69)"/>
<rect x="181.00" y="1132.50" width="41.00" height="8.00" fill="url(#g70)"/>
<rect x="254.30" y="1066.60" width="45.40" height="86.10" fill="url(#g71)"/>
<rect x="254.50" y="1067.50" width="43.50" height="10.50" fill="url(#g72)"/>
<rect x="254.50" y="1143.50" width="43.50" height="10.00" fill="url(#g73)"/>
<path d="M201,1074 L211,1074 L211,1092 L229,1098 L229,1126 L211,1120 L211,1134 L201,1134 Z" fill="#8f9397"/>
<path d="M229,1083 L254,1079 L283,1080 L283,1142 L254,1141 L232,1146 L229,1146 Z" fill="url(#g74)"/>
<path d="M237,1097 L260,1095.5 L262,1127 L237,1128 Z" fill="#5f6367"/>
<path d="M237.5,1099 L258,1098 L259,1124 L237.5,1125 Z" fill="url(#g75)"/>
<rect x="229.00" y="1080.00" width="2.50" height="66.00" fill="#d9dbdd"/>
<circle cx="200.70" cy="1036.00" r="6.90" fill="#8d9194"/>
<circle cx="200.70" cy="1036.00" r="6.30" fill="url(#r76)"/>
<path d="M197.7,1036.0 L203.7,1036.0 M200.7,1033.0 L200.7,1039.0" stroke="#3a3d40" stroke-width="1.4" fill="none"/>
<circle cx="276.10" cy="1042.50" r="6.90" fill="#8d9194"/>
<circle cx="276.10" cy="1042.50" r="6.30" fill="url(#r77)"/>
<path d="M273.1,1042.5 L279.1,1042.5 M276.1,1039.5 L276.1,1045.5" stroke="#3a3d40" stroke-width="1.4" fill="none"/>
<circle cx="200.70" cy="1168.60" r="6.90" fill="#8d9194"/>
<circle cx="200.70" cy="1168.60" r="6.30" fill="url(#r78)"/>
<path d="M197.7,1168.6 L203.7,1168.6 M200.7,1165.6 L200.7,1171.6" stroke="#3a3d40" stroke-width="1.4" fill="none"/>
<circle cx="276.10" cy="1178.60" r="6.90" fill="#8d9194"/>
<circle cx="276.10" cy="1178.60" r="6.30" fill="url(#r79)"/>
<path d="M273.1,1178.6 L279.1,1178.6 M276.1,1175.6 L276.1,1181.6" stroke="#3a3d40" stroke-width="1.4" fill="none"/>
</g>
<g id="vis_steel" filter="url(#soft)">
<path d="M469,1035 Q520,1037 556,1033.5 L556,1193.6 L472,1193.6 Q460,1191 455.3,1179 L455.3,1050 Q455.5,1035 469,1035 Z" fill="url(#g80)"/>
<ellipse cx="479.00" cy="1058.10" rx="10.00" ry="11.50" fill="url(#g81)"/>
<ellipse cx="476.80" cy="1057.60" rx="5.80" ry="7.00" fill="#ffffff"/>
<ellipse cx="508.60" cy="1092.50" rx="10.00" ry="11.50" fill="url(#g82)"/>
<ellipse cx="506.40" cy="1092.00" rx="5.80" ry="7.00" fill="#ffffff"/>
<ellipse cx="508.60" cy="1137.20" rx="10.00" ry="11.50" fill="url(#g83)"/>
<ellipse cx="506.40" cy="1136.70" rx="5.80" ry="7.00" fill="#ffffff"/>
<ellipse cx="479.00" cy="1171.60" rx="10.00" ry="11.50" fill="url(#g84)"/>
<ellipse cx="476.80" cy="1171.10" rx="5.80" ry="7.00" fill="#ffffff"/>
<path d="M588,1118 L641.5,1118 Q643.7,1118 643.7,1120.2 L643.7,1148.9 L613,1148.9 A7.2,7.2 0 0 0 613,1163.4 L643.7,1163.4 L643.7,1191.4 Q643.7,1193.6 641.5,1193.6 L588,1193.6 Z" fill="url(#g85)"/>
<rect x="614.90" y="1127.60" width="25.40" height="7.60" rx="3.6" fill="#ffffff"/>
<rect x="614.90" y="1177.00" width="25.40" height="7.00" rx="3.4" fill="#ffffff"/>
<path d="M557.30,1023.80 L587.80,1023.80 A3.00,3.00 0 0 1 590.80,1026.80 L590.80,1110.70 A2.00,2.00 0 0 1 588.80,1112.70 L556.30,1112.70 A2.00,2.00 0 0 1 554.30,1110.70 L554.30,1026.80 A3.00,3.00 0 0 1 557.30,1023.80 Z" fill="url(#g86)"/>
<path d="M556.30,1116.40 L588.80,1116.40 A2.00,2.00 0 0 1 590.80,1118.40 L590.80,1202.30 A3.00,3.00 0 0 1 587.80,1205.30 L557.30,1205.30 A3.00,3.00 0 0 1 554.30,1202.30 L554.30,1118.40 A2.00,2.00 0 0 1 556.30,1116.40 Z" fill="url(#g87)"/>
<rect x="555.00" y="1112.70" width="34.00" height="3.70" fill="#b9bcc1"/>
<line x1="555.00" y1="1113.20" x2="589.00" y2="1113.20" stroke="#6d7177" stroke-width="1.0"/>
<line x1="555.00" y1="1033.50" x2="589.00" y2="1033.50" stroke="#7f838a" stroke-width="0.9"/>
<line x1="555.00" y1="1196.00" x2="589.00" y2="1196.00" stroke="#7f838a" stroke-width="0.9"/>
</g>
<g id="vis_mdf" filter="url(#soft)">
<path d="M786,1047.6 L872.6,1045.5 L872.6,1189.2 L786,1187.8 Q774.5,1185.5 773.5,1173 L773.5,1061 Q774.2,1049.5 786,1047.6 Z" fill="url(#g88)"/>
<rect x="844.40" y="1045.40" width="28.20" height="143.80" fill="url(#g89)"/>
<rect x="868.00" y="1084.30" width="20.00" height="64.70" fill="url(#g90)"/>
<rect x="842.20" y="1082.00" width="27.40" height="72.60" rx="1.5" fill="#c9ccd5"/>
<rect x="844.00" y="1083.60" width="24.20" height="69.00" rx="1" fill="url(#g91)"/>
<path d="M918.40,1049.60 L918.60,1049.60 A41.00,41.00 0 0 1 959.60,1090.60 L959.60,1146.20 A41.00,41.00 0 0 1 918.60,1187.20 L918.40,1187.20 A41.00,41.00 0 0 1 877.40,1146.20 L877.40,1090.60 A41.00,41.00 0 0 1 918.40,1049.60 Z" fill="url(#g92)"/>
<rect x="950.00" y="1080.30" width="12.40" height="73.90" rx="1.5" fill="url(#g93)"/>
<path d="M918.80,1053.60 L918.80,1053.60 A32.40,32.40 0 0 1 951.20,1086.00 L951.20,1150.20 A32.40,32.40 0 0 1 918.80,1182.60 L918.80,1182.60 A32.40,32.40 0 0 1 886.40,1150.20 L886.40,1086.00 A32.40,32.40 0 0 1 918.80,1053.60 Z" fill="#e0e2e8" stroke="#c2c5cf" stroke-width="1.2"/>
<ellipse cx="808.70" cy="1064.30" rx="7.20" ry="6.60" fill="#ffffff" stroke="#d0d3db" stroke-width="1"/>
<ellipse cx="793.00" cy="1117.00" rx="7.20" ry="6.60" fill="#ffffff" stroke="#d0d3db" stroke-width="1"/>
<ellipse cx="808.70" cy="1168.60" rx="7.20" ry="6.60" fill="#ffffff" stroke="#d0d3db" stroke-width="1"/>
<circle cx="920.00" cy="1071.70" r="5.20" fill="#ffffff" stroke="#cdd0d9" stroke-width="1"/>
<circle cx="920.00" cy="1166.50" r="5.20" fill="#ffffff" stroke="#cdd0d9" stroke-width="1"/>
<path d="M910,1112 L918,1112 L914,1124 Z" fill="#d3d6de"/>
</g>
<g id="vx7729" filter="url(#soft)">
<path d="M182.60,1342.30 L232.00,1342.30 L232.00,1342.30 L232.00,1570.50 L232.00,1570.50 L182.60,1570.50 A13.00,13.00 0 0 1 169.60,1557.50 L169.60,1355.30 A13.00,13.00 0 0 1 182.60,1342.30 Z" fill="url(#g94)"/>
<circle cx="188.00" cy="1360.50" r="7.30" fill="url(#g95)"/>
<circle cx="187.80" cy="1359.50" r="4.00" fill="#fbfcfc"/>
<circle cx="187.70" cy="1366.50" r="1.40" fill="#596165"/>
<circle cx="204.00" cy="1410.80" r="7.30" fill="url(#g96)"/>
<circle cx="203.80" cy="1409.80" r="4.00" fill="#fbfcfc"/>
<circle cx="203.70" cy="1416.80" r="1.40" fill="#596165"/>
<circle cx="181.70" cy="1459.20" r="7.30" fill="url(#g97)"/>
<circle cx="181.50" cy="1458.20" r="4.00" fill="#fbfcfc"/>
<circle cx="181.40" cy="1465.20" r="1.40" fill="#596165"/>
<circle cx="204.00" cy="1507.70" r="7.30" fill="url(#g98)"/>
<circle cx="203.80" cy="1506.70" r="4.00" fill="#fbfcfc"/>
<circle cx="203.70" cy="1513.70" r="1.40" fill="#596165"/>
<circle cx="187.40" cy="1557.40" r="7.30" fill="url(#g99)"/>
<circle cx="187.20" cy="1556.40" r="4.00" fill="#fbfcfc"/>
<circle cx="187.10" cy="1563.40" r="1.40" fill="#596165"/>
<path d="M255,1396.2 L307,1396.2 L307,1414.6 L297.6,1414.6 Q295.6,1414.6 295.6,1412.6 L295.6,1411.1 Q295.6,1409.1 293.6,1409.1 L279.6,1409.1 Q277.6,1409.1 277.6,1411.1 L277.6,1424.9 Q277.6,1426.9 279.6,1426.9 L293.6,1426.9 Q295.6,1426.9 295.6,1424.9 L295.6,1423.4 Q295.6,1421.4 297.6,1421.4 L307,1421.4 L307,1454.8 L297.6,1454.8 Q295.6,1454.8 295.6,1452.8 L295.6,1451.6 Q295.6,1449.6 293.6,1449.6 L279.6,1449.6 Q277.6,1449.6 277.6,1451.6 L277.6,1464.8 Q277.6,1466.8 279.6,1466.8 L293.6,1466.8 Q295.6,1466.8 295.6,1464.8 L295.6,1463.6 Q295.6,1461.6 297.6,1461.6 L307,1461.6 L307,1495.0 L297.6,1495.0 Q295.6,1495.0 295.6,1493.0 L295.6,1491.5 Q295.6,1489.5 293.6,1489.5 L279.6,1489.5 Q277.6,1489.5 277.6,1491.5 L277.6,1505.3 Q277.6,1507.3 279.6,1507.3 L293.6,1507.3 Q295.6,1507.3 295.6,1505.3 L295.6,1503.8 Q295.6,1501.8 297.6,1501.8 L307,1501.8 L307,1517.1 L255,1517.1 Z" fill="url(#g100)"/>
<path d="M236.40,1342.30 L250.10,1342.30 A6.00,6.00 0 0 1 256.10,1348.30 L256.10,1402.70 A0.50,0.50 0 0 1 255.60,1403.20 L230.90,1403.20 A0.50,0.50 0 0 1 230.40,1402.70 L230.40,1348.30 A6.00,6.00 0 0 1 236.40,1342.30 Z" fill="url(#g101)"/>
<path d="M231.90,1403.20 L255.10,1403.20 A0.50,0.50 0 0 1 255.60,1403.70 L255.60,1528.20 A0.50,0.50 0 0 1 255.10,1528.70 L231.90,1528.70 A0.50,0.50 0 0 1 231.40,1528.20 L231.40,1403.70 A0.50,0.50 0 0 1 231.90,1403.20 Z" fill="url(#g102)"/>
<path d="M230.90,1528.70 L255.60,1528.70 A0.50,0.50 0 0 1 256.10,1529.20 L256.10,1579.00 A3.00,3.00 0 0 1 253.10,1582.00 L233.40,1582.00 A3.00,3.00 0 0 1 230.40,1579.00 L230.40,1529.20 A0.50,0.50 0 0 1 230.90,1528.70 Z" fill="url(#g103)"/>
<line x1="231.00" y1="1403.20" x2="256.00" y2="1403.20" stroke="#5f676c" stroke-width="1.1"/>
<line x1="231.00" y1="1528.70" x2="256.00" y2="1528.70" stroke="#5f676c" stroke-width="1.1"/>
<line x1="230.20" y1="1404.00" x2="230.20" y2="1528.00" stroke="#e8ebec" stroke-width="1.2"/>
</g>
<g id="swing" filter="url(#soft)">
<rect x="512.00" y="1355.60" width="8.60" height="187.90" fill="#2c3034"/>
<path d="M514,1354.5 L531,1356 L531,1360.5 L519,1360 Z" fill="#35393d"/>
<rect x="518.50" y="1531.00" width="9.50" height="14.00" fill="#4a4e52"/>
<rect x="519.70" y="1353.70" width="66.30" height="193.30" fill="url(#g104)"/>
<circle cx="544.20" cy="1369.10" r="3.40" fill="#c3c7ca"/>
<circle cx="544.20" cy="1369.10" r="2.30" fill="#6d7175"/>
<circle cx="543.60" cy="1390.50" r="3.40" fill="#c3c7ca"/>
<circle cx="543.60" cy="1390.50" r="2.30" fill="#8c9094"/>
<circle cx="561.40" cy="1407.70" r="3.40" fill="#c3c7ca"/>
<circle cx="561.40" cy="1407.70" r="2.30" fill="#6d7175"/>
<circle cx="551.60" cy="1448.20" r="3.40" fill="#c3c7ca"/>
<circle cx="551.60" cy="1448.20" r="2.30" fill="#9da1a4"/>
<circle cx="560.80" cy="1489.90" r="3.40" fill="#c3c7ca"/>
<circle cx="560.80" cy="1489.90" r="2.30" fill="#7a7e82"/>
<circle cx="542.40" cy="1507.10" r="3.40" fill="#c3c7ca"/>
<circle cx="542.40" cy="1507.10" r="2.30" fill="#8c9094"/>
<circle cx="542.40" cy="1528.60" r="3.40" fill="#c3c7ca"/>
<circle cx="542.40" cy="1528.60" r="2.30" fill="#a3a7aa"/>
<path d="M494.20,1326.70 L510.20,1326.70 A7.00,7.00 0 0 1 517.20,1333.70 L517.20,1354.40 A1.00,1.00 0 0 1 516.20,1355.40 L488.20,1355.40 A1.00,1.00 0 0 1 487.20,1354.40 L487.20,1333.70 A7.00,7.00 0 0 1 494.20,1326.70 Z" fill="url(#g105)"/>
<path d="M486.30,1355.60 L512.50,1355.60 A1.00,1.00 0 0 1 513.50,1356.60 L513.50,1530.00 A1.00,1.00 0 0 1 512.50,1531.00 L486.30,1531.00 A1.00,1.00 0 0 1 485.30,1530.00 L485.30,1356.60 A1.00,1.00 0 0 1 486.30,1355.60 Z" fill="url(#g106)"/>
<path d="M485.80,1531.00 L513.20,1531.00 A1.00,1.00 0 0 1 514.20,1532.00 L514.20,1543.50 A1.00,1.00 0 0 1 513.20,1544.50 L485.80,1544.50 A1.00,1.00 0 0 1 484.80,1543.50 L484.80,1532.00 A1.00,1.00 0 0 1 485.80,1531.00 Z" fill="url(#g107)"/>
<path d="M486.80,1544.50 L514.40,1544.50 A1.00,1.00 0 0 1 515.40,1545.50 L515.40,1564.30 A6.00,6.00 0 0 1 509.40,1570.30 L491.80,1570.30 A6.00,6.00 0 0 1 485.80,1564.30 L485.80,1545.50 A1.00,1.00 0 0 1 486.80,1544.50 Z" fill="url(#g108)"/>
<line x1="485.50" y1="1354.80" x2="514.00" y2="1354.80" stroke="#9a9da0" stroke-width="0.9"/>
<line x1="485.50" y1="1532.20" x2="514.00" y2="1532.20" stroke="#9a9da0" stroke-width="0.9"/>
<line x1="485.50" y1="1537.50" x2="514.00" y2="1537.50" stroke="#9a9da0" stroke-width="0.9"/>
<line x1="485.50" y1="1543.60" x2="514.00" y2="1543.60" stroke="#9a9da0" stroke-width="0.9"/>
<rect x="584.70" y="1355.60" width="17.80" height="191.40" fill="url(#g109)"/>
<path d="M596.60,1328.00 L613.30,1328.00 A7.00,7.00 0 0 1 620.30,1335.00 L620.30,1354.60 A1.00,1.00 0 0 1 619.30,1355.60 L590.60,1355.60 A1.00,1.00 0 0 1 589.60,1354.60 L589.60,1335.00 A7.00,7.00 0 0 1 596.60,1328.00 Z" fill="url(#g110)"/>
<path d="M602.90,1355.60 L619.50,1355.60 A1.00,1.00 0 0 1 620.50,1356.60 L620.50,1532.00 A1.00,1.00 0 0 1 619.50,1533.00 L602.90,1533.00 A1.00,1.00 0 0 1 601.90,1532.00 L601.90,1356.60 A1.00,1.00 0 0 1 602.90,1355.60 Z" fill="url(#g111)"/>
<path d="M602.50,1533.00 L620.00,1533.00 A1.00,1.00 0 0 1 621.00,1534.00 L621.00,1546.00 A1.00,1.00 0 0 1 620.00,1547.00 L602.50,1547.00 A1.00,1.00 0 0 1 601.50,1546.00 L601.50,1534.00 A1.00,1.00 0 0 1 602.50,1533.00 Z" fill="url(#g112)"/>
<path d="M588.80,1547.00 L618.10,1547.00 A1.00,1.00 0 0 1 619.10,1548.00 L619.10,1565.50 A6.00,6.00 0 0 1 613.10,1571.50 L593.80,1571.50 A6.00,6.00 0 0 1 587.80,1565.50 L587.80,1548.00 A1.00,1.00 0 0 1 588.80,1547.00 Z" fill="url(#g113)"/>
<line x1="602.00" y1="1355.20" x2="620.50" y2="1355.20" stroke="#9a9da0" stroke-width="0.9"/>
<line x1="602.00" y1="1534.00" x2="620.50" y2="1534.00" stroke="#9a9da0" stroke-width="0.9"/>
<line x1="602.00" y1="1540.00" x2="620.50" y2="1540.00" stroke="#9a9da0" stroke-width="0.9"/>
<line x1="602.00" y1="1546.40" x2="620.50" y2="1546.40" stroke="#9a9da0" stroke-width="0.9"/>
<circle cx="513.60" cy="1342.00" r="1.30" fill="#4a4e52"/>
<circle cx="499.40" cy="1363.50" r="1.30" fill="#4a4e52"/>
<circle cx="614.80" cy="1341.80" r="1.30" fill="#4a4e52"/>
<circle cx="605.60" cy="1366.00" r="1.30" fill="#4a4e52"/>
<circle cx="498.20" cy="1537.80" r="1.30" fill="#4a4e52"/>
<circle cx="496.40" cy="1556.80" r="1.30" fill="#4a4e52"/>
<circle cx="609.20" cy="1538.40" r="1.30" fill="#4a4e52"/>
<circle cx="606.80" cy="1557.40" r="1.30" fill="#4a4e52"/>
</g>
<g id="v4487" filter="url(#soft)">
<path d="M783,1384 Q783.6,1372.5 796,1368.6 L830,1363 L848.6,1364.6 L848.6,1518.6 L796,1521.8 Q784.4,1520.5 783,1508 Z" fill="url(#g114)"/>
<circle cx="796.40" cy="1382.40" r="5.90" fill="url(#g115)"/>
<rect x="797.60" y="1381.00" width="5.40" height="2.80" fill="#b9bab5"/>
<circle cx="795.40" cy="1382.20" r="3.50" fill="url(#g116)"/>
<circle cx="813.70" cy="1411.80" r="5.90" fill="url(#g117)"/>
<rect x="814.90" y="1410.40" width="5.40" height="2.80" fill="#b9bab5"/>
<circle cx="812.70" cy="1411.60" r="3.50" fill="url(#g118)"/>
<circle cx="813.70" cy="1469.00" r="5.90" fill="url(#g119)"/>
<rect x="814.90" y="1467.60" width="5.40" height="2.80" fill="#b9bab5"/>
<circle cx="812.70" cy="1468.80" r="3.50" fill="url(#g120)"/>
<circle cx="796.80" cy="1506.60" r="5.90" fill="url(#g121)"/>
<rect x="798.00" y="1505.20" width="5.40" height="2.80" fill="#b9bab5"/>
<circle cx="795.80" cy="1506.40" r="3.50" fill="url(#g122)"/>
<rect x="852.10" y="1404.00" width="14.30" height="80.00" fill="url(#g123)"/>
<path d="M852.30,1360.50 L867.70,1360.50 A4.00,4.00 0 0 1 871.70,1364.50 L871.70,1404.20 A1.00,1.00 0 0 1 870.70,1405.20 L849.30,1405.20 A1.00,1.00 0 0 1 848.30,1404.20 L848.30,1364.50 A4.00,4.00 0 0 1 852.30,1360.50 Z" fill="url(#g124)"/>
<path d="M849.30,1482.50 L870.70,1482.50 A1.00,1.00 0 0 1 871.70,1483.50 L871.70,1526.00 A4.00,4.00 0 0 1 867.70,1530.00 L852.30,1530.00 A4.00,4.00 0 0 1 848.30,1526.00 L848.30,1483.50 A1.00,1.00 0 0 1 849.30,1482.50 Z" fill="url(#g125)"/>
<line x1="849.00" y1="1369.80" x2="871.00" y2="1369.80" stroke="#777a7c" stroke-width="1.0"/>
<line x1="849.00" y1="1523.20" x2="871.00" y2="1523.20" stroke="#777a7c" stroke-width="1.0"/>
<g mask="url(#rodfade)">
<rect x="899.00" y="1432.80" width="91.50" height="9.10" rx="2" fill="url(#g126)"/>
<rect x="899.00" y="1464.20" width="91.50" height="8.60" rx="2" fill="url(#g126)"/>
</g>
<path d="M877.40,1409.50 L898.30,1409.50 A2.00,2.00 0 0 1 900.30,1411.50 L900.30,1479.00 A2.00,2.00 0 0 1 898.30,1481.00 L877.40,1481.00 A2.00,2.00 0 0 1 875.40,1479.00 L875.40,1411.50 A2.00,2.00 0 0 1 877.40,1409.50 Z" fill="url(#g128)"/>
</g>
<g id="threshold" filter="url(#soft)">
<path d="M249.3,1913.2 L546.3,1774.2 L546.7,1783.6 L252.8,1924.6 Z" fill="url(#g129)"/>
<path d="M211,1897 L497.6,1765.4 L546.3,1774.2 L249.3,1913.6 L213,1902 Z" fill="url(#g130)"/>
<path d="M136.1,1888 L180,1870 L180,1900.8 Z" fill="url(#g131)"/>
<path d="M136.1,1888 L180,1900.2 L213,1901.2 L249.3,1913.4 L249.8,1915 L213,1903 L180,1902 L136.5,1889.2 Z" fill="#a9abad"/>
<path d="M212,1896 L492,1766.5 L497.6,1765.4 L500,1771.5 L226,1904.5 Z" fill="url(#g132)"/>
<path d="M226,1904.5 L500,1771.5 L503,1777 L238,1910 Z" fill="url(#g133)"/>
<path d="M203.7,1873.9 L485,1746.7 Q493.5,1754 491.5,1766.5 L488,1773 L213.2,1898.5 Q208,1893 209,1886 Z" fill="url(#g134)"/>
<path d="M211,1893 L490,1766 L488,1773.4 L213.2,1898.8 Z" fill="#c3c5c6" opacity="0.8"/>
<path d="M162.9,1863.7 L439.4,1737.3 Q470,1738 485,1746.7 L203.7,1873.9 L180.2,1869.4 Z" fill="url(#g135)"/>
<path d="M203.7,1873.9 L485,1746.7" stroke="#8f9193" stroke-width="1.2" fill="none"/>
<path d="M197,1872.6 L478,1744.6" stroke="#d9dadb" stroke-width="1.0" fill="none" opacity="0.7"/>
<path d="M111.8,1880 Q111,1876.5 114,1875.3 L433,1737.6 L440.5,1737.2 L163,1864 L116.5,1885.6 Q113,1887 112.6,1884 Z" fill="url(#g136)"/>
<rect x="179.40" y="1872.30" width="7.80" height="28.30" fill="#d6d7d8"/>
<rect x="182.40" y="1874.60" width="3.80" height="24.80" fill="#8b8d90"/>
<rect x="188.60" y="1875.50" width="5.90" height="25.00" fill="#6f7174"/>
<path d="M194,1877 L205,1874.5 L213,1892 L209,1902.5 L195,1901.5 Z" fill="#f1f1f2"/>
<path d="M196.5,1881 Q194.5,1890 197,1899 M200.5,1880.5 L200.3,1899 M204.5,1881.5 Q207.5,1890 204.5,1898.5" stroke="#6a6d70" stroke-width="1.3" fill="none"/>
</g>
<g id="porthole" filter="url(#soft)">
<g transform="rotate(1.6 741 1811)">
<ellipse cx="716.60" cy="1806.00" rx="65.80" ry="113.50" fill="url(#g137)"/>
<ellipse cx="722.50" cy="1807.00" rx="61.00" ry="108.00" fill="url(#g138)"/>
<ellipse cx="741.00" cy="1811.50" rx="65.50" ry="118.50" fill="url(#g139)"/>
<ellipse cx="741" cy="1811.5" rx="65" ry="118" fill="none" stroke="#dfe3e4" stroke-width="0.9" stroke-dasharray="1.5 2.5" opacity="0.55"/>
<ellipse cx="790" cy="1850" rx="5" ry="24" fill="#ffffff" opacity="0.8" filter="url(#blur4)" transform="rotate(14 790 1850)"/>
<ellipse cx="736.00" cy="1810.80" rx="52.60" ry="96.80" fill="#858b8d"/>
<ellipse cx="736.40" cy="1810.80" rx="51.20" ry="95.40" fill="url(#r140)"/>
</g>
<rect x="700.00" y="1703.10" width="16.00" height="2.80" rx="1" fill="#dfe2e3"/>
<rect x="656.50" y="1794.10" width="21.50" height="2.80" rx="1" fill="#dfe2e3"/>
<rect x="679.00" y="1900.10" width="18.00" height="2.80" rx="1" fill="#dfe2e3"/>
<circle cx="723.00" cy="1705.50" r="1.30" fill="#c3c8ca"/>
<circle cx="681.00" cy="1797.00" r="1.30" fill="#c3c8ca"/>
<circle cx="701.50" cy="1903.50" r="1.30" fill="#c3c8ca"/>
<circle cx="784.50" cy="1724.50" r="1.30" fill="#c3c8ca"/>
<circle cx="803.00" cy="1827.00" r="1.30" fill="#c3c8ca"/>
<circle cx="763.50" cy="1908.00" r="1.30" fill="#c3c8ca"/>
</g>
</svg>
<div class="b" style="left:113.9px;top:241.4px"></div>
<div class="b" style="left:113.9px;top:933.6px"></div>
<div class="b" style="left:113.9px;top:1702.4px"></div>
<div class="sep"></div>
<h1 class="t" style="left:118.80px;top:110.21px;font-size:47.6px;color:#1d1d1b;transform:scaleX(0.9088);font-weight:700;">Accessories</h1>
<h2 class="t" style="left:147.40px;top:233.34px;font-size:23.7px;color:#1d1d1b;transform:scaleX(1.0070);font-weight:700;">HINGES FOR REBATED DOORS</h2>
<h2 class="t" style="left:147.40px;top:926.04px;font-size:23.7px;color:#1d1d1b;transform:scaleX(1.0215);font-weight:700;">HINGES FOR NON-REBATED DOORS</h2>
<h2 class="t" style="left:148.40px;top:1694.24px;font-size:23.7px;color:#1d1d1b;transform:scaleX(1.0094);font-weight:700;">OTHERS</h2>
<div class="t" style="left:196.20px;top:480.14px;font-size:17.2px;color:#242322;transform:scaleX(0.9511);">PRIME hinge</div>
<div class="t" style="left:503.20px;top:480.14px;font-size:17.2px;color:#242322;transform:scaleX(1.0323);">Hinge with rising pin</div>
<div class="t" style="left:858.60px;top:480.14px;font-size:17.2px;color:#242322;transform:scaleX(1.0275);">Two-part hinge</div>
<div class="t" style="left:824.20px;top:502.74px;font-size:17.2px;color:#242322;transform:scaleX(1.0182);">for wooden door frames</div>
<div class="t" style="left:1209.40px;top:480.14px;font-size:17.2px;color:#242322;transform:scaleX(1.0346);">Two-part hinge</div>
<div class="t" style="left:1189.40px;top:502.74px;font-size:17.2px;color:#242322;transform:scaleX(0.9975);">for steel door frames</div>
<div class="t" style="left:184.00px;top:807.04px;font-size:17.2px;color:#242322;transform:scaleX(1.0135);">Three-part hinge</div>
<div class="t" style="left:155.60px;top:829.04px;font-size:17.2px;color:#242322;transform:scaleX(1.0171);">for wooden door frames</div>
<div class="t" style="left:517.60px;top:807.04px;font-size:17.2px;color:#242322;transform:scaleX(1.0246);">Three-part hinge</div>
<div class="t" style="left:503.00px;top:829.04px;font-size:17.2px;color:#242322;transform:scaleX(1.0045);">for steel door frames</div>
<div class="t" style="left:816.40px;top:807.04px;font-size:17.2px;color:#242322;transform:scaleX(0.9706);">Heavy duty hinge EXACTA</div>
<div class="t" style="left:1200.80px;top:807.04px;font-size:17.2px;color:#242322;transform:scaleX(1.0168);">Heavy duty hinge</div>
<div class="t" style="left:1223.60px;top:829.04px;font-size:17.2px;color:#242322;transform:scaleX(0.9574);">VX7939/160</div>
<div class="t" style="left:164.00px;top:1232.04px;font-size:17.2px;color:#242322;transform:scaleX(0.9903);">Concealed hinge 3D</div>
<div class="t" style="left:134.20px;top:1254.04px;font-size:17.2px;color:#242322;transform:scaleX(0.8952);">for Porta SYSTEM ELEGANCE</div>
<div class="t" style="left:199.00px;top:1276.04px;font-size:17.2px;color:#242322;transform:scaleX(1.0260);">door frame</div>
<div class="t" style="left:500.60px;top:1232.04px;font-size:17.2px;color:#242322;transform:scaleX(1.0104);">Visible hinge</div>
<div class="t" style="left:518.80px;top:1254.04px;font-size:17.2px;color:#242322;transform:scaleX(0.9935);">for steel</div>
<div class="t" style="left:502.20px;top:1276.04px;font-size:17.2px;color:#242322;transform:scaleX(1.0156);">door frames</div>
<div class="t" style="left:819.60px;top:1232.04px;font-size:17.2px;color:#242322;transform:scaleX(0.9980);">Visible hinge</div>
<div class="t" style="left:789.00px;top:1254.04px;font-size:17.2px;color:#242322;transform:scaleX(0.9924);">for MDF door frames</div>
<div class="t" style="left:175.00px;top:1604.44px;font-size:17.2px;color:#242322;transform:scaleX(1.0229);">Heavy duty hinge</div>
<div class="t" style="left:198.00px;top:1626.44px;font-size:17.2px;color:#242322;transform:scaleX(0.9574);">VX7729/160</div>
<div class="t" style="left:484.40px;top:1603.24px;font-size:17.2px;color:#242322;transform:scaleX(1.0229);">Swing door hinge</div>
<div class="t" style="left:807.40px;top:1602.94px;font-size:17.2px;color:#242322;transform:scaleX(0.9724);">V4487WF hinge</div>
<div class="t" style="left:188.80px;top:1952.04px;font-size:17.2px;color:#242322;transform:scaleX(0.9853);">Stainless steel threshold</div>
<div class="t" style="left:199.60px;top:1974.04px;font-size:17.2px;color:#242322;transform:scaleX(1.0025);">for Porta door frames</div>
<div class="t" style="left:633.00px;top:1953.14px;font-size:17.2px;color:#242322;transform:scaleX(1.0023);">Stainless steel porthole</div>
<div class="t" style="left:516.20px;top:1975.14px;font-size:17.2px;color:#242322;transform:scaleX(0.9951);">Internal diameter 250 mm for door leaves ’60’ and ’70’,</div>
<div class="t" style="left:619.20px;top:1997.14px;font-size:17.2px;color:#242322;transform:scaleX(0.9894);">and 300 mm for other sizes</div>
<div class="t" style="left:112.80px;top:2062.18px;font-size:24.0px;color:#505050;transform:scaleX(1.1003);font-weight:700;">106</div>
<div class="t" style="left:182.20px;top:2066.86px;font-size:15.4px;color:#3a3a39;transform:scaleX(0.9022);letter-spacing:0.6px;">IF YOU HAVEN’T FOUND THE SOLUTION YOU NEED, PLEASE CONTACT US.</div>
</body>
</html>
